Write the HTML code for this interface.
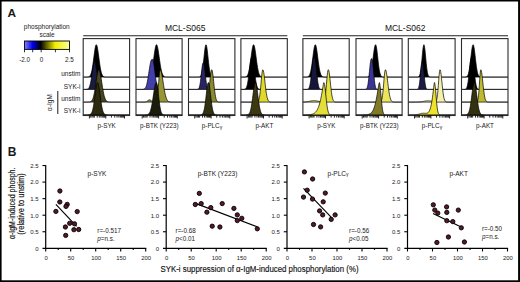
<!DOCTYPE html>
<html><head><meta charset="utf-8"><style>
html,body{margin:0;padding:0;background:#fff;}
body{width:520px;height:282px;overflow:hidden;position:relative;}
svg{position:absolute;left:0;top:0;}
text{font-family:"Liberation Sans", sans-serif;fill:#1a1a1a;}
text.big{fill:#111;stroke:#111;stroke-width:0.15px;}
text.mid{fill:#111;}
</style></head><body>
<svg width="520" height="282" viewBox="0 0 520 282">
<rect x="0" y="0" width="520" height="1.5" fill="#000"/>
<rect x="0" y="0" width="1.6" height="282" fill="#000"/>
<rect x="518.1" y="0" width="1.9" height="282" fill="#000"/>
<rect x="0" y="280.3" width="520" height="1.7" fill="#000"/>
<line x1="83.2" y1="35.8" x2="287.3" y2="35.8" stroke="#222" stroke-width="1.1"/>
<line x1="302.9" y1="35.8" x2="508.0" y2="35.8" stroke="#222" stroke-width="1.1"/>
<path d="M83.20,77.10 L83.20,77.10 L83.59,77.10 L83.97,77.10 L84.36,77.10 L84.75,77.10 L85.13,77.10 L85.52,77.10 L85.91,77.10 L86.29,77.09 L86.68,77.08 L87.07,77.07 L87.45,77.05 L87.84,77.01 L88.23,76.95 L88.61,76.85 L89.00,76.70 L89.39,76.47 L89.77,76.13 L90.16,75.65 L90.55,74.98 L90.93,74.08 L91.32,72.90 L91.71,71.41 L92.09,69.56 L92.48,67.37 L92.87,64.84 L93.25,62.02 L93.64,59.02 L94.03,55.94 L94.41,52.94 L94.80,50.18 L95.19,47.85 L95.57,46.08 L95.96,45.01 L96.35,44.71 L96.73,45.17 L97.12,46.34 L97.51,48.14 L97.89,50.45 L98.28,53.14 L98.67,56.05 L99.05,59.03 L99.44,61.94 L99.83,64.67 L100.21,67.14 L100.60,69.30 L100.99,71.13 L101.37,72.64 L101.76,73.84 L102.15,74.77 L102.53,75.47 L102.92,75.99 L103.31,76.36 L103.69,76.62 L104.08,76.79 L104.47,76.91 L104.85,76.98 L105.24,77.03 L105.63,77.06 L106.01,77.08 L106.40,77.09 L106.79,77.09 L107.17,77.10 L107.56,77.10 L107.95,77.10 L108.33,77.10 L108.72,77.10 L109.11,77.10 L109.49,77.10 L109.88,77.10 L110.27,77.10 L110.65,77.10 L111.04,77.10 L111.43,77.10 L111.81,77.10 L112.20,77.10 L112.59,77.10 L112.97,77.10 L113.36,77.10 L113.75,77.10 L114.13,77.10 L114.52,77.10 L114.91,77.10 L115.29,77.10 L115.68,77.10 L116.07,77.10 L116.45,77.10 L116.84,77.10 L117.23,77.10 L117.61,77.10 L118.00,77.10 L118.39,77.10 L118.77,77.10 L119.16,77.10 L119.55,77.10 L119.93,77.10 L120.32,77.10 L120.71,77.10 L121.09,77.10 L121.48,77.10 L121.87,77.10 L122.25,77.10 L122.64,77.10 L123.03,77.10 L123.41,77.10 L123.80,77.10 L124.19,77.10 L124.57,77.10 L124.96,77.10 L125.35,77.10 L125.73,77.10 L126.12,77.10 L126.51,77.10 L126.89,77.10 L127.28,77.10 L127.67,77.10 L128.05,77.10 L128.44,77.10 L128.83,77.10 L129.21,77.10 L129.60,77.10 L129.60,77.10 Z" fill="rgb(0,0,0)" stroke="#000" stroke-width="0.7" stroke-linejoin="round"/>
<path d="M83.20,89.40 L83.20,89.40 L83.59,89.40 L83.97,89.40 L84.36,89.40 L84.75,89.39 L85.13,89.39 L85.52,89.38 L85.91,89.37 L86.29,89.34 L86.68,89.29 L87.07,89.22 L87.45,89.10 L87.84,88.91 L88.23,88.63 L88.61,88.23 L89.00,87.66 L89.39,86.88 L89.77,85.85 L90.16,84.52 L90.55,82.88 L90.93,80.91 L91.32,78.64 L91.71,76.11 L92.09,73.41 L92.48,70.67 L92.87,68.04 L93.25,65.66 L93.64,63.72 L94.03,62.33 L94.41,61.62 L94.80,61.63 L95.19,62.37 L95.57,63.77 L95.96,65.74 L96.35,68.12 L96.73,70.77 L97.12,73.51 L97.51,76.20 L97.89,78.72 L98.28,80.98 L98.67,82.94 L99.05,84.57 L99.44,85.89 L99.83,86.91 L100.21,87.68 L100.60,88.24 L100.99,88.64 L101.37,88.92 L101.76,89.10 L102.15,89.22 L102.53,89.29 L102.92,89.34 L103.31,89.37 L103.69,89.38 L104.08,89.39 L104.47,89.39 L104.85,89.40 L105.24,89.40 L105.63,89.40 L106.01,89.40 L106.40,89.40 L106.79,89.40 L107.17,89.40 L107.56,89.40 L107.95,89.40 L108.33,89.40 L108.72,89.40 L109.11,89.40 L109.49,89.40 L109.88,89.40 L110.27,89.40 L110.65,89.40 L111.04,89.40 L111.43,89.40 L111.81,89.40 L112.20,89.40 L112.59,89.40 L112.97,89.40 L113.36,89.40 L113.75,89.40 L114.13,89.40 L114.52,89.40 L114.91,89.40 L115.29,89.40 L115.68,89.40 L116.07,89.40 L116.45,89.40 L116.84,89.40 L117.23,89.40 L117.61,89.40 L118.00,89.40 L118.39,89.40 L118.77,89.40 L119.16,89.40 L119.55,89.40 L119.93,89.40 L120.32,89.40 L120.71,89.40 L121.09,89.40 L121.48,89.40 L121.87,89.40 L122.25,89.40 L122.64,89.40 L123.03,89.40 L123.41,89.40 L123.80,89.40 L124.19,89.40 L124.57,89.40 L124.96,89.40 L125.35,89.40 L125.73,89.40 L126.12,89.40 L126.51,89.40 L126.89,89.40 L127.28,89.40 L127.67,89.40 L128.05,89.40 L128.44,89.40 L128.83,89.40 L129.21,89.40 L129.60,89.40 L129.60,89.40 Z" fill="rgb(26,26,66)" stroke="#000" stroke-width="0.7" stroke-linejoin="round"/>
<path d="M83.20,102.10 L83.20,102.10 L83.59,102.10 L83.97,102.10 L84.36,102.10 L84.75,102.10 L85.13,102.10 L85.52,102.10 L85.91,102.10 L86.29,102.10 L86.68,102.10 L87.07,102.09 L87.45,102.09 L87.84,102.08 L88.23,102.07 L88.61,102.06 L89.00,102.03 L89.39,101.98 L89.77,101.92 L90.16,101.82 L90.55,101.68 L90.93,101.47 L91.32,101.18 L91.71,100.78 L92.09,100.25 L92.48,99.55 L92.87,98.65 L93.25,97.53 L93.64,96.15 L94.03,94.50 L94.41,92.58 L94.80,90.40 L95.19,87.99 L95.57,85.40 L95.96,82.71 L96.35,80.01 L96.73,77.41 L97.12,75.03 L97.51,72.97 L97.89,71.35 L98.28,70.25 L98.67,69.74 L99.05,69.82 L99.44,70.44 L99.83,71.58 L100.21,73.16 L100.60,75.13 L100.99,77.38 L101.37,79.83 L101.76,82.36 L102.15,84.91 L102.53,87.38 L102.92,89.70 L103.31,91.83 L103.69,93.74 L104.08,95.41 L104.47,96.83 L104.85,98.03 L105.24,99.00 L105.63,99.78 L106.01,100.39 L106.40,100.87 L106.79,101.22 L107.17,101.49 L107.56,101.68 L107.95,101.82 L108.33,101.91 L108.72,101.98 L109.11,102.02 L109.49,102.05 L109.88,102.07 L110.27,102.08 L110.65,102.09 L111.04,102.09 L111.43,102.10 L111.81,102.10 L112.20,102.10 L112.59,102.10 L112.97,102.10 L113.36,102.10 L113.75,102.10 L114.13,102.10 L114.52,102.10 L114.91,102.10 L115.29,102.10 L115.68,102.10 L116.07,102.10 L116.45,102.10 L116.84,102.10 L117.23,102.10 L117.61,102.10 L118.00,102.10 L118.39,102.10 L118.77,102.10 L119.16,102.10 L119.55,102.10 L119.93,102.10 L120.32,102.10 L120.71,102.10 L121.09,102.10 L121.48,102.10 L121.87,102.10 L122.25,102.10 L122.64,102.10 L123.03,102.10 L123.41,102.10 L123.80,102.10 L124.19,102.10 L124.57,102.10 L124.96,102.10 L125.35,102.10 L125.73,102.10 L126.12,102.10 L126.51,102.10 L126.89,102.10 L127.28,102.10 L127.67,102.10 L128.05,102.10 L128.44,102.10 L128.83,102.10 L129.21,102.10 L129.60,102.10 L129.60,102.10 Z" fill="rgb(72,70,30)" stroke="#000" stroke-width="0.7" stroke-linejoin="round"/>
<path d="M83.20,114.90 L83.20,114.90 L83.59,114.90 L83.97,114.90 L84.36,114.90 L84.75,114.90 L85.13,114.90 L85.52,114.90 L85.91,114.90 L86.29,114.90 L86.68,114.90 L87.07,114.89 L87.45,114.89 L87.84,114.88 L88.23,114.86 L88.61,114.84 L89.00,114.79 L89.39,114.72 L89.77,114.61 L90.16,114.44 L90.55,114.20 L90.93,113.84 L91.32,113.35 L91.71,112.67 L92.09,111.76 L92.48,110.60 L92.87,109.13 L93.25,107.34 L93.64,105.22 L94.03,102.78 L94.41,100.08 L94.80,97.19 L95.19,94.21 L95.57,91.29 L95.96,88.56 L96.35,86.19 L96.73,84.32 L97.12,83.07 L97.51,82.52 L97.89,82.71 L98.28,83.63 L98.67,85.22 L99.05,87.36 L99.44,89.94 L99.83,92.78 L100.21,95.75 L100.60,98.70 L100.99,101.51 L101.37,104.08 L101.76,106.36 L102.15,108.31 L102.53,109.93 L102.92,111.24 L103.31,112.26 L103.69,113.04 L104.08,113.62 L104.47,114.04 L104.85,114.34 L105.24,114.54 L105.63,114.67 L106.01,114.76 L106.40,114.82 L106.79,114.85 L107.17,114.87 L107.56,114.88 L107.95,114.89 L108.33,114.90 L108.72,114.90 L109.11,114.90 L109.49,114.90 L109.88,114.90 L110.27,114.90 L110.65,114.90 L111.04,114.90 L111.43,114.90 L111.81,114.90 L112.20,114.90 L112.59,114.90 L112.97,114.90 L113.36,114.90 L113.75,114.90 L114.13,114.90 L114.52,114.90 L114.91,114.90 L115.29,114.90 L115.68,114.90 L116.07,114.90 L116.45,114.90 L116.84,114.90 L117.23,114.90 L117.61,114.90 L118.00,114.90 L118.39,114.90 L118.77,114.90 L119.16,114.90 L119.55,114.90 L119.93,114.90 L120.32,114.90 L120.71,114.90 L121.09,114.90 L121.48,114.90 L121.87,114.90 L122.25,114.90 L122.64,114.90 L123.03,114.90 L123.41,114.90 L123.80,114.90 L124.19,114.90 L124.57,114.90 L124.96,114.90 L125.35,114.90 L125.73,114.90 L126.12,114.90 L126.51,114.90 L126.89,114.90 L127.28,114.90 L127.67,114.90 L128.05,114.90 L128.44,114.90 L128.83,114.90 L129.21,114.90 L129.60,114.90 L129.60,114.90 Z" fill="rgb(44,43,16)" stroke="#000" stroke-width="0.7" stroke-linejoin="round"/>
<rect x="83.2" y="38.6" width="46.40" height="76.9" fill="none" stroke="#2a2a2a" stroke-width="1.1"/>
<line x1="89.40" y1="115.5" x2="89.40" y2="118.50" stroke="#000" stroke-width="0.85"/>
<line x1="105.80" y1="115.5" x2="105.80" y2="118.50" stroke="#000" stroke-width="0.85"/>
<line x1="124.50" y1="115.5" x2="124.50" y2="118.50" stroke="#000" stroke-width="0.85"/>
<line x1="94.34" y1="115.5" x2="94.34" y2="117.60" stroke="#000" stroke-width="0.85"/>
<line x1="97.22" y1="115.5" x2="97.22" y2="117.60" stroke="#000" stroke-width="0.85"/>
<line x1="99.27" y1="115.5" x2="99.27" y2="117.60" stroke="#000" stroke-width="0.85"/>
<line x1="100.86" y1="115.5" x2="100.86" y2="117.60" stroke="#000" stroke-width="0.85"/>
<line x1="102.16" y1="115.5" x2="102.16" y2="117.60" stroke="#000" stroke-width="0.85"/>
<line x1="103.26" y1="115.5" x2="103.26" y2="117.60" stroke="#000" stroke-width="0.85"/>
<line x1="104.21" y1="115.5" x2="104.21" y2="117.60" stroke="#000" stroke-width="0.85"/>
<line x1="105.05" y1="115.5" x2="105.05" y2="117.60" stroke="#000" stroke-width="0.85"/>
<line x1="111.43" y1="115.5" x2="111.43" y2="117.60" stroke="#000" stroke-width="0.85"/>
<line x1="114.72" y1="115.5" x2="114.72" y2="117.60" stroke="#000" stroke-width="0.85"/>
<line x1="117.06" y1="115.5" x2="117.06" y2="117.60" stroke="#000" stroke-width="0.85"/>
<line x1="118.87" y1="115.5" x2="118.87" y2="117.60" stroke="#000" stroke-width="0.85"/>
<line x1="120.35" y1="115.5" x2="120.35" y2="117.60" stroke="#000" stroke-width="0.85"/>
<line x1="121.60" y1="115.5" x2="121.60" y2="117.60" stroke="#000" stroke-width="0.85"/>
<line x1="122.69" y1="115.5" x2="122.69" y2="117.60" stroke="#000" stroke-width="0.85"/>
<line x1="123.64" y1="115.5" x2="123.64" y2="117.60" stroke="#000" stroke-width="0.85"/>
<line x1="90.70" y1="115.5" x2="90.70" y2="117.60" stroke="#000" stroke-width="0.85"/>
<line x1="92.00" y1="115.5" x2="92.00" y2="117.60" stroke="#000" stroke-width="0.85"/>
<line x1="93.20" y1="115.5" x2="93.20" y2="117.60" stroke="#000" stroke-width="0.85"/>
<path d="M136.00,77.10 L136.00,77.10 L136.38,77.10 L136.77,77.10 L137.15,77.10 L137.54,77.10 L137.92,77.10 L138.31,77.10 L138.69,77.10 L139.07,77.10 L139.46,77.10 L139.84,77.10 L140.23,77.10 L140.61,77.10 L140.99,77.10 L141.38,77.10 L141.76,77.10 L142.15,77.10 L142.53,77.10 L142.91,77.10 L143.30,77.10 L143.68,77.10 L144.07,77.10 L144.45,77.10 L144.84,77.10 L145.22,77.10 L145.60,77.09 L145.99,77.09 L146.37,77.08 L146.76,77.07 L147.14,77.04 L147.53,77.00 L147.91,76.94 L148.29,76.85 L148.68,76.71 L149.06,76.50 L149.45,76.21 L149.83,75.79 L150.21,75.23 L150.60,74.47 L150.98,73.49 L151.37,72.26 L151.75,70.73 L152.13,68.90 L152.52,66.77 L152.90,64.36 L153.29,61.71 L153.67,58.90 L154.06,56.04 L154.44,53.24 L154.82,50.64 L155.21,48.37 L155.59,46.57 L155.98,45.33 L156.36,44.75 L156.75,44.83 L157.13,45.56 L157.51,46.88 L157.90,48.71 L158.28,50.96 L158.67,53.51 L159.05,56.24 L159.43,59.01 L159.82,61.72 L160.20,64.29 L160.59,66.64 L160.97,68.73 L161.35,70.53 L161.74,72.05 L162.12,73.29 L162.51,74.28 L162.89,75.06 L163.28,75.65 L163.66,76.09 L164.04,76.41 L164.43,76.64 L164.81,76.80 L165.20,76.91 L165.58,76.98 L165.97,77.02 L166.35,77.05 L166.73,77.07 L167.12,77.08 L167.50,77.09 L167.89,77.09 L168.27,77.10 L168.65,77.10 L169.04,77.10 L169.42,77.10 L169.81,77.10 L170.19,77.10 L170.57,77.10 L170.96,77.10 L171.34,77.10 L171.73,77.10 L172.11,77.10 L172.50,77.10 L172.88,77.10 L173.26,77.10 L173.65,77.10 L174.03,77.10 L174.42,77.10 L174.80,77.10 L175.19,77.10 L175.57,77.10 L175.95,77.10 L176.34,77.10 L176.72,77.10 L177.11,77.10 L177.49,77.10 L177.87,77.10 L178.26,77.10 L178.64,77.10 L179.03,77.10 L179.41,77.10 L179.79,77.10 L180.18,77.10 L180.56,77.10 L180.95,77.10 L181.33,77.10 L181.72,77.10 L182.10,77.10 L182.10,77.10 Z" fill="rgb(0,0,0)" stroke="#000" stroke-width="0.7" stroke-linejoin="round"/>
<path d="M136.00,89.40 L136.00,89.40 L136.38,89.40 L136.77,89.40 L137.15,89.40 L137.54,89.40 L137.92,89.40 L138.31,89.40 L138.69,89.40 L139.07,89.40 L139.46,89.40 L139.84,89.40 L140.23,89.40 L140.61,89.40 L140.99,89.40 L141.38,89.40 L141.76,89.39 L142.15,89.38 L142.53,89.36 L142.91,89.33 L143.30,89.28 L143.68,89.20 L144.07,89.07 L144.45,88.87 L144.84,88.57 L145.22,88.14 L145.60,87.55 L145.99,86.75 L146.37,85.71 L146.76,84.39 L147.14,82.78 L147.53,80.89 L147.91,78.73 L148.29,76.35 L148.68,73.82 L149.06,71.22 L149.45,68.68 L149.83,66.28 L150.21,64.14 L150.60,62.34 L150.98,60.95 L151.37,59.98 L151.75,59.44 L152.13,59.27 L152.52,59.39 L152.90,60.00 L153.29,61.23 L153.67,63.07 L154.06,65.45 L154.44,68.25 L154.82,71.30 L155.21,74.40 L155.59,77.39 L155.98,80.11 L156.36,82.48 L156.75,84.43 L157.13,85.97 L157.51,87.12 L157.90,87.94 L158.28,88.51 L158.67,88.88 L159.05,89.11 L159.43,89.24 L159.82,89.32 L160.20,89.36 L160.59,89.38 L160.97,89.39 L161.35,89.40 L161.74,89.40 L162.12,89.40 L162.51,89.40 L162.89,89.40 L163.28,89.40 L163.66,89.40 L164.04,89.40 L164.43,89.40 L164.81,89.40 L165.20,89.40 L165.58,89.40 L165.97,89.40 L166.35,89.40 L166.73,89.40 L167.12,89.40 L167.50,89.40 L167.89,89.40 L168.27,89.40 L168.65,89.40 L169.04,89.40 L169.42,89.40 L169.81,89.40 L170.19,89.40 L170.57,89.40 L170.96,89.40 L171.34,89.40 L171.73,89.40 L172.11,89.40 L172.50,89.40 L172.88,89.40 L173.26,89.40 L173.65,89.40 L174.03,89.40 L174.42,89.40 L174.80,89.40 L175.19,89.40 L175.57,89.40 L175.95,89.40 L176.34,89.40 L176.72,89.40 L177.11,89.40 L177.49,89.40 L177.87,89.40 L178.26,89.40 L178.64,89.40 L179.03,89.40 L179.41,89.40 L179.79,89.40 L180.18,89.40 L180.56,89.40 L180.95,89.40 L181.33,89.40 L181.72,89.40 L182.10,89.40 L182.10,89.40 Z" fill="rgb(66,62,170)" stroke="#000" stroke-width="0.7" stroke-linejoin="round"/>
<path d="M136.00,102.10 L136.00,102.10 L136.38,102.10 L136.77,102.10 L137.15,102.10 L137.54,102.10 L137.92,102.10 L138.31,102.10 L138.69,102.10 L139.07,102.10 L139.46,102.10 L139.84,102.10 L140.23,102.10 L140.61,102.10 L140.99,102.10 L141.38,102.10 L141.76,102.10 L142.15,102.10 L142.53,102.10 L142.91,102.10 L143.30,102.10 L143.68,102.09 L144.07,102.09 L144.45,102.07 L144.84,102.05 L145.22,102.01 L145.60,101.94 L145.99,101.83 L146.37,101.68 L146.76,101.48 L147.14,101.24 L147.53,100.95 L147.91,100.64 L148.29,100.34 L148.68,100.08 L149.06,99.91 L149.45,99.83 L149.83,99.87 L150.21,100.02 L150.60,100.26 L150.98,100.55 L151.37,100.86 L151.75,101.16 L152.13,101.42 L152.52,101.63 L152.90,101.79 L153.29,101.91 L153.67,101.99 L154.06,102.03 L154.44,102.04 L154.82,102.02 L155.21,101.94 L155.59,101.75 L155.98,101.39 L156.36,100.72 L156.75,99.58 L157.13,97.79 L157.51,95.18 L157.90,91.68 L158.28,87.36 L158.67,82.52 L159.05,77.68 L159.43,73.52 L159.82,70.69 L160.20,69.70 L160.59,69.97 L160.97,70.77 L161.35,72.06 L161.74,73.76 L162.12,75.82 L162.51,78.13 L162.89,80.60 L163.28,83.13 L163.66,85.64 L164.04,88.06 L164.43,90.32 L164.81,92.38 L165.20,94.21 L165.58,95.80 L165.97,97.16 L166.35,98.29 L166.73,99.21 L167.12,99.94 L167.50,100.51 L167.89,100.95 L168.27,101.29 L168.65,101.53 L169.04,101.71 L169.42,101.84 L169.81,101.93 L170.19,101.99 L170.57,102.03 L170.96,102.05 L171.34,102.07 L171.73,102.08 L172.11,102.09 L172.50,102.09 L172.88,102.10 L173.26,102.10 L173.65,102.10 L174.03,102.10 L174.42,102.10 L174.80,102.10 L175.19,102.10 L175.57,102.10 L175.95,102.10 L176.34,102.10 L176.72,102.10 L177.11,102.10 L177.49,102.10 L177.87,102.10 L178.26,102.10 L178.64,102.10 L179.03,102.10 L179.41,102.10 L179.79,102.10 L180.18,102.10 L180.56,102.10 L180.95,102.10 L181.33,102.10 L181.72,102.10 L182.10,102.10 L182.10,102.10 Z" fill="rgb(150,150,52)" stroke="#000" stroke-width="0.7" stroke-linejoin="round"/>
<path d="M136.00,114.90 L136.00,114.90 L136.38,114.90 L136.77,114.90 L137.15,114.90 L137.54,114.90 L137.92,114.90 L138.31,114.90 L138.69,114.90 L139.07,114.90 L139.46,114.90 L139.84,114.90 L140.23,114.90 L140.61,114.90 L140.99,114.90 L141.38,114.90 L141.76,114.90 L142.15,114.90 L142.53,114.90 L142.91,114.90 L143.30,114.90 L143.68,114.90 L144.07,114.90 L144.45,114.89 L144.84,114.89 L145.22,114.88 L145.60,114.87 L145.99,114.84 L146.37,114.81 L146.76,114.76 L147.14,114.69 L147.53,114.58 L147.91,114.42 L148.29,114.21 L148.68,113.91 L149.06,113.50 L149.45,112.96 L149.83,112.27 L150.21,111.38 L150.60,110.29 L150.98,108.95 L151.37,107.37 L151.75,105.53 L152.13,103.45 L152.52,101.15 L152.90,98.68 L153.29,96.10 L153.67,93.49 L154.06,90.94 L154.44,88.57 L154.82,86.47 L155.21,84.73 L155.59,83.46 L155.98,82.70 L156.36,82.51 L156.75,83.15 L157.13,84.71 L157.51,87.04 L157.90,89.96 L158.28,93.24 L158.67,96.65 L159.05,99.98 L159.43,103.07 L159.82,105.79 L160.20,108.10 L160.59,109.98 L160.97,111.44 L161.35,112.54 L161.74,113.34 L162.12,113.90 L162.51,114.28 L162.89,114.52 L163.28,114.68 L163.66,114.77 L164.04,114.83 L164.43,114.86 L164.81,114.88 L165.20,114.89 L165.58,114.90 L165.97,114.90 L166.35,114.90 L166.73,114.90 L167.12,114.90 L167.50,114.90 L167.89,114.90 L168.27,114.90 L168.65,114.90 L169.04,114.90 L169.42,114.90 L169.81,114.90 L170.19,114.90 L170.57,114.90 L170.96,114.90 L171.34,114.90 L171.73,114.90 L172.11,114.90 L172.50,114.90 L172.88,114.90 L173.26,114.90 L173.65,114.90 L174.03,114.90 L174.42,114.90 L174.80,114.90 L175.19,114.90 L175.57,114.90 L175.95,114.90 L176.34,114.90 L176.72,114.90 L177.11,114.90 L177.49,114.90 L177.87,114.90 L178.26,114.90 L178.64,114.90 L179.03,114.90 L179.41,114.90 L179.79,114.90 L180.18,114.90 L180.56,114.90 L180.95,114.90 L181.33,114.90 L181.72,114.90 L182.10,114.90 L182.10,114.90 Z" fill="rgb(28,28,10)" stroke="#000" stroke-width="0.7" stroke-linejoin="round"/>
<rect x="136.0" y="38.6" width="46.10" height="76.9" fill="none" stroke="#2a2a2a" stroke-width="1.1"/>
<line x1="142.20" y1="115.5" x2="142.20" y2="118.50" stroke="#000" stroke-width="0.85"/>
<line x1="158.60" y1="115.5" x2="158.60" y2="118.50" stroke="#000" stroke-width="0.85"/>
<line x1="177.30" y1="115.5" x2="177.30" y2="118.50" stroke="#000" stroke-width="0.85"/>
<line x1="147.14" y1="115.5" x2="147.14" y2="117.60" stroke="#000" stroke-width="0.85"/>
<line x1="150.02" y1="115.5" x2="150.02" y2="117.60" stroke="#000" stroke-width="0.85"/>
<line x1="152.07" y1="115.5" x2="152.07" y2="117.60" stroke="#000" stroke-width="0.85"/>
<line x1="153.66" y1="115.5" x2="153.66" y2="117.60" stroke="#000" stroke-width="0.85"/>
<line x1="154.96" y1="115.5" x2="154.96" y2="117.60" stroke="#000" stroke-width="0.85"/>
<line x1="156.06" y1="115.5" x2="156.06" y2="117.60" stroke="#000" stroke-width="0.85"/>
<line x1="157.01" y1="115.5" x2="157.01" y2="117.60" stroke="#000" stroke-width="0.85"/>
<line x1="157.85" y1="115.5" x2="157.85" y2="117.60" stroke="#000" stroke-width="0.85"/>
<line x1="164.23" y1="115.5" x2="164.23" y2="117.60" stroke="#000" stroke-width="0.85"/>
<line x1="167.52" y1="115.5" x2="167.52" y2="117.60" stroke="#000" stroke-width="0.85"/>
<line x1="169.86" y1="115.5" x2="169.86" y2="117.60" stroke="#000" stroke-width="0.85"/>
<line x1="171.67" y1="115.5" x2="171.67" y2="117.60" stroke="#000" stroke-width="0.85"/>
<line x1="173.15" y1="115.5" x2="173.15" y2="117.60" stroke="#000" stroke-width="0.85"/>
<line x1="174.40" y1="115.5" x2="174.40" y2="117.60" stroke="#000" stroke-width="0.85"/>
<line x1="175.49" y1="115.5" x2="175.49" y2="117.60" stroke="#000" stroke-width="0.85"/>
<line x1="176.44" y1="115.5" x2="176.44" y2="117.60" stroke="#000" stroke-width="0.85"/>
<line x1="143.50" y1="115.5" x2="143.50" y2="117.60" stroke="#000" stroke-width="0.85"/>
<line x1="144.80" y1="115.5" x2="144.80" y2="117.60" stroke="#000" stroke-width="0.85"/>
<line x1="146.00" y1="115.5" x2="146.00" y2="117.60" stroke="#000" stroke-width="0.85"/>
<path d="M188.50,77.10 L188.50,77.10 L188.89,77.10 L189.27,77.10 L189.66,77.10 L190.05,77.10 L190.43,77.10 L190.82,77.10 L191.21,77.10 L191.59,77.10 L191.98,77.10 L192.37,77.10 L192.75,77.10 L193.14,77.10 L193.53,77.10 L193.91,77.10 L194.30,77.10 L194.69,77.10 L195.07,77.10 L195.46,77.10 L195.85,77.10 L196.23,77.10 L196.62,77.10 L197.01,77.10 L197.39,77.10 L197.78,77.09 L198.17,77.08 L198.55,77.06 L198.94,77.02 L199.33,76.95 L199.71,76.82 L200.10,76.61 L200.49,76.26 L200.87,75.73 L201.26,74.93 L201.65,73.79 L202.03,72.22 L202.42,70.17 L202.81,67.60 L203.19,64.54 L203.58,61.09 L203.97,57.40 L204.35,53.72 L204.74,50.33 L205.13,47.54 L205.51,45.61 L205.90,44.74 L206.29,45.02 L206.67,46.42 L207.06,48.80 L207.45,51.91 L207.83,55.48 L208.22,59.19 L208.61,62.80 L208.99,66.08 L209.38,68.91 L209.77,71.22 L210.15,73.04 L210.54,74.39 L210.93,75.35 L211.31,76.02 L211.70,76.45 L212.09,76.72 L212.47,76.89 L212.86,76.99 L213.25,77.04 L213.63,77.07 L214.02,77.09 L214.41,77.09 L214.79,77.10 L215.18,77.10 L215.57,77.10 L215.95,77.10 L216.34,77.10 L216.73,77.10 L217.11,77.10 L217.50,77.10 L217.89,77.10 L218.27,77.10 L218.66,77.10 L219.05,77.10 L219.43,77.10 L219.82,77.10 L220.21,77.10 L220.59,77.10 L220.98,77.10 L221.37,77.10 L221.75,77.10 L222.14,77.10 L222.53,77.10 L222.91,77.10 L223.30,77.10 L223.69,77.10 L224.07,77.10 L224.46,77.10 L224.85,77.10 L225.23,77.10 L225.62,77.10 L226.01,77.10 L226.39,77.10 L226.78,77.10 L227.17,77.10 L227.55,77.10 L227.94,77.10 L228.33,77.10 L228.71,77.10 L229.10,77.10 L229.49,77.10 L229.87,77.10 L230.26,77.10 L230.65,77.10 L231.03,77.10 L231.42,77.10 L231.81,77.10 L232.19,77.10 L232.58,77.10 L232.97,77.10 L233.35,77.10 L233.74,77.10 L234.13,77.10 L234.51,77.10 L234.90,77.10 L234.90,77.10 Z" fill="rgb(0,0,0)" stroke="#000" stroke-width="0.7" stroke-linejoin="round"/>
<path d="M188.50,89.40 L188.50,89.40 L188.89,89.40 L189.27,89.40 L189.66,89.40 L190.05,89.40 L190.43,89.40 L190.82,89.40 L191.21,89.40 L191.59,89.40 L191.98,89.40 L192.37,89.40 L192.75,89.40 L193.14,89.40 L193.53,89.40 L193.91,89.40 L194.30,89.40 L194.69,89.40 L195.07,89.40 L195.46,89.40 L195.85,89.40 L196.23,89.40 L196.62,89.39 L197.01,89.38 L197.39,89.34 L197.78,89.26 L198.17,89.10 L198.55,88.78 L198.94,88.23 L199.33,87.31 L199.71,85.92 L200.10,83.93 L200.49,81.32 L200.87,78.16 L201.26,74.63 L201.65,71.04 L202.03,67.77 L202.42,65.18 L202.81,63.51 L203.19,62.86 L203.58,63.03 L203.97,64.13 L204.35,66.24 L204.74,69.18 L205.13,72.63 L205.51,76.24 L205.90,79.64 L206.29,82.57 L206.67,84.90 L207.06,86.61 L207.45,87.78 L207.83,88.51 L208.22,88.95 L208.61,89.18 L208.99,89.30 L209.38,89.36 L209.77,89.38 L210.15,89.39 L210.54,89.40 L210.93,89.40 L211.31,89.40 L211.70,89.40 L212.09,89.40 L212.47,89.40 L212.86,89.40 L213.25,89.40 L213.63,89.40 L214.02,89.40 L214.41,89.40 L214.79,89.40 L215.18,89.40 L215.57,89.40 L215.95,89.40 L216.34,89.40 L216.73,89.40 L217.11,89.40 L217.50,89.40 L217.89,89.40 L218.27,89.40 L218.66,89.40 L219.05,89.40 L219.43,89.40 L219.82,89.40 L220.21,89.40 L220.59,89.40 L220.98,89.40 L221.37,89.40 L221.75,89.40 L222.14,89.40 L222.53,89.40 L222.91,89.40 L223.30,89.40 L223.69,89.40 L224.07,89.40 L224.46,89.40 L224.85,89.40 L225.23,89.40 L225.62,89.40 L226.01,89.40 L226.39,89.40 L226.78,89.40 L227.17,89.40 L227.55,89.40 L227.94,89.40 L228.33,89.40 L228.71,89.40 L229.10,89.40 L229.49,89.40 L229.87,89.40 L230.26,89.40 L230.65,89.40 L231.03,89.40 L231.42,89.40 L231.81,89.40 L232.19,89.40 L232.58,89.40 L232.97,89.40 L233.35,89.40 L233.74,89.40 L234.13,89.40 L234.51,89.40 L234.90,89.40 L234.90,89.40 Z" fill="rgb(40,36,100)" stroke="#000" stroke-width="0.7" stroke-linejoin="round"/>
<path d="M188.50,102.10 L188.50,102.10 L188.89,102.10 L189.27,102.10 L189.66,102.10 L190.05,102.10 L190.43,102.10 L190.82,102.10 L191.21,102.10 L191.59,102.10 L191.98,102.10 L192.37,102.10 L192.75,102.10 L193.14,102.10 L193.53,102.10 L193.91,102.10 L194.30,102.10 L194.69,102.10 L195.07,102.10 L195.46,102.10 L195.85,102.10 L196.23,102.10 L196.62,102.10 L197.01,102.10 L197.39,102.10 L197.78,102.10 L198.17,102.10 L198.55,102.10 L198.94,102.10 L199.33,102.10 L199.71,102.10 L200.10,102.10 L200.49,102.10 L200.87,102.10 L201.26,102.10 L201.65,102.10 L202.03,102.10 L202.42,102.10 L202.81,102.10 L203.19,102.10 L203.58,102.09 L203.97,102.09 L204.35,102.07 L204.74,102.04 L205.13,101.99 L205.51,101.88 L205.90,101.71 L206.29,101.40 L206.67,100.92 L207.06,100.17 L207.45,99.07 L207.83,97.53 L208.22,95.47 L208.61,92.85 L208.99,89.69 L209.38,86.09 L209.77,82.25 L210.15,78.42 L210.54,74.94 L210.93,72.14 L211.31,70.33 L211.70,69.70 L212.09,70.28 L212.47,71.95 L212.86,74.54 L213.25,77.80 L213.63,81.44 L214.02,85.15 L214.41,88.68 L214.79,91.86 L215.18,94.56 L215.57,96.74 L215.95,98.43 L216.34,99.67 L216.73,100.55 L217.11,101.15 L217.50,101.53 L217.89,101.78 L218.27,101.92 L218.66,102.00 L219.05,102.05 L219.43,102.08 L219.82,102.09 L220.21,102.09 L220.59,102.10 L220.98,102.10 L221.37,102.10 L221.75,102.10 L222.14,102.10 L222.53,102.10 L222.91,102.10 L223.30,102.10 L223.69,102.10 L224.07,102.10 L224.46,102.10 L224.85,102.10 L225.23,102.10 L225.62,102.10 L226.01,102.10 L226.39,102.10 L226.78,102.10 L227.17,102.10 L227.55,102.10 L227.94,102.10 L228.33,102.10 L228.71,102.10 L229.10,102.10 L229.49,102.10 L229.87,102.10 L230.26,102.10 L230.65,102.10 L231.03,102.10 L231.42,102.10 L231.81,102.10 L232.19,102.10 L232.58,102.10 L232.97,102.10 L233.35,102.10 L233.74,102.10 L234.13,102.10 L234.51,102.10 L234.90,102.10 L234.90,102.10 Z" fill="rgb(140,138,48)" stroke="#000" stroke-width="0.7" stroke-linejoin="round"/>
<path d="M188.50,114.90 L188.50,114.90 L188.89,114.90 L189.27,114.90 L189.66,114.90 L190.05,114.90 L190.43,114.90 L190.82,114.90 L191.21,114.90 L191.59,114.90 L191.98,114.90 L192.37,114.90 L192.75,114.90 L193.14,114.90 L193.53,114.90 L193.91,114.90 L194.30,114.90 L194.69,114.90 L195.07,114.90 L195.46,114.90 L195.85,114.90 L196.23,114.90 L196.62,114.90 L197.01,114.90 L197.39,114.90 L197.78,114.90 L198.17,114.90 L198.55,114.90 L198.94,114.90 L199.33,114.89 L199.71,114.89 L200.10,114.87 L200.49,114.85 L200.87,114.80 L201.26,114.73 L201.65,114.60 L202.03,114.39 L202.42,114.07 L202.81,113.59 L203.19,112.89 L203.58,111.91 L203.97,110.58 L204.35,108.86 L204.74,106.70 L205.13,104.10 L205.51,101.11 L205.90,97.83 L206.29,94.40 L206.67,91.03 L207.06,87.95 L207.45,85.38 L207.83,83.55 L208.22,82.61 L208.61,82.64 L208.99,83.65 L209.38,85.54 L209.77,88.15 L210.15,91.26 L210.54,94.64 L210.93,98.06 L211.31,101.33 L211.70,104.29 L212.09,106.86 L212.47,108.99 L212.86,110.69 L213.25,111.99 L213.63,112.95 L214.02,113.63 L214.41,114.10 L214.79,114.41 L215.18,114.61 L215.57,114.73 L215.95,114.81 L216.34,114.85 L216.73,114.87 L217.11,114.89 L217.50,114.89 L217.89,114.90 L218.27,114.90 L218.66,114.90 L219.05,114.90 L219.43,114.90 L219.82,114.90 L220.21,114.90 L220.59,114.90 L220.98,114.90 L221.37,114.90 L221.75,114.90 L222.14,114.90 L222.53,114.90 L222.91,114.90 L223.30,114.90 L223.69,114.90 L224.07,114.90 L224.46,114.90 L224.85,114.90 L225.23,114.90 L225.62,114.90 L226.01,114.90 L226.39,114.90 L226.78,114.90 L227.17,114.90 L227.55,114.90 L227.94,114.90 L228.33,114.90 L228.71,114.90 L229.10,114.90 L229.49,114.90 L229.87,114.90 L230.26,114.90 L230.65,114.90 L231.03,114.90 L231.42,114.90 L231.81,114.90 L232.19,114.90 L232.58,114.90 L232.97,114.90 L233.35,114.90 L233.74,114.90 L234.13,114.90 L234.51,114.90 L234.90,114.90 L234.90,114.90 Z" fill="rgb(50,50,16)" stroke="#000" stroke-width="0.7" stroke-linejoin="round"/>
<rect x="188.5" y="38.6" width="46.40" height="76.9" fill="none" stroke="#2a2a2a" stroke-width="1.1"/>
<line x1="194.70" y1="115.5" x2="194.70" y2="118.50" stroke="#000" stroke-width="0.85"/>
<line x1="211.10" y1="115.5" x2="211.10" y2="118.50" stroke="#000" stroke-width="0.85"/>
<line x1="229.80" y1="115.5" x2="229.80" y2="118.50" stroke="#000" stroke-width="0.85"/>
<line x1="199.64" y1="115.5" x2="199.64" y2="117.60" stroke="#000" stroke-width="0.85"/>
<line x1="202.52" y1="115.5" x2="202.52" y2="117.60" stroke="#000" stroke-width="0.85"/>
<line x1="204.57" y1="115.5" x2="204.57" y2="117.60" stroke="#000" stroke-width="0.85"/>
<line x1="206.16" y1="115.5" x2="206.16" y2="117.60" stroke="#000" stroke-width="0.85"/>
<line x1="207.46" y1="115.5" x2="207.46" y2="117.60" stroke="#000" stroke-width="0.85"/>
<line x1="208.56" y1="115.5" x2="208.56" y2="117.60" stroke="#000" stroke-width="0.85"/>
<line x1="209.51" y1="115.5" x2="209.51" y2="117.60" stroke="#000" stroke-width="0.85"/>
<line x1="210.35" y1="115.5" x2="210.35" y2="117.60" stroke="#000" stroke-width="0.85"/>
<line x1="216.73" y1="115.5" x2="216.73" y2="117.60" stroke="#000" stroke-width="0.85"/>
<line x1="220.02" y1="115.5" x2="220.02" y2="117.60" stroke="#000" stroke-width="0.85"/>
<line x1="222.36" y1="115.5" x2="222.36" y2="117.60" stroke="#000" stroke-width="0.85"/>
<line x1="224.17" y1="115.5" x2="224.17" y2="117.60" stroke="#000" stroke-width="0.85"/>
<line x1="225.65" y1="115.5" x2="225.65" y2="117.60" stroke="#000" stroke-width="0.85"/>
<line x1="226.90" y1="115.5" x2="226.90" y2="117.60" stroke="#000" stroke-width="0.85"/>
<line x1="227.99" y1="115.5" x2="227.99" y2="117.60" stroke="#000" stroke-width="0.85"/>
<line x1="228.94" y1="115.5" x2="228.94" y2="117.60" stroke="#000" stroke-width="0.85"/>
<line x1="196.00" y1="115.5" x2="196.00" y2="117.60" stroke="#000" stroke-width="0.85"/>
<line x1="197.30" y1="115.5" x2="197.30" y2="117.60" stroke="#000" stroke-width="0.85"/>
<line x1="198.50" y1="115.5" x2="198.50" y2="117.60" stroke="#000" stroke-width="0.85"/>
<path d="M240.90,77.10 L240.90,77.10 L241.29,77.10 L241.67,77.10 L242.06,77.10 L242.45,77.10 L242.83,77.10 L243.22,77.09 L243.61,77.09 L243.99,77.07 L244.38,77.05 L244.77,77.02 L245.15,76.97 L245.54,76.88 L245.93,76.75 L246.31,76.56 L246.70,76.27 L247.09,75.87 L247.47,75.30 L247.86,74.54 L248.25,73.54 L248.63,72.25 L249.02,70.66 L249.41,68.74 L249.79,66.49 L250.18,63.94 L250.57,61.15 L250.95,58.21 L251.34,55.24 L251.73,52.37 L252.11,49.77 L252.50,47.58 L252.89,45.95 L253.27,44.97 L253.66,44.71 L254.05,45.19 L254.43,46.39 L254.82,48.21 L255.21,50.54 L255.59,53.24 L255.98,56.15 L256.37,59.13 L256.75,62.04 L257.14,64.76 L257.53,67.22 L257.91,69.37 L258.30,71.19 L258.69,72.68 L259.07,73.87 L259.46,74.80 L259.85,75.50 L260.23,76.01 L260.62,76.37 L261.01,76.63 L261.39,76.80 L261.78,76.91 L262.17,76.99 L262.55,77.03 L262.94,77.06 L263.33,77.08 L263.71,77.09 L264.10,77.09 L264.49,77.10 L264.87,77.10 L265.26,77.10 L265.65,77.10 L266.03,77.10 L266.42,77.10 L266.81,77.10 L267.19,77.10 L267.58,77.10 L267.97,77.10 L268.35,77.10 L268.74,77.10 L269.13,77.10 L269.51,77.10 L269.90,77.10 L270.29,77.10 L270.67,77.10 L271.06,77.10 L271.45,77.10 L271.83,77.10 L272.22,77.10 L272.61,77.10 L272.99,77.10 L273.38,77.10 L273.77,77.10 L274.15,77.10 L274.54,77.10 L274.93,77.10 L275.31,77.10 L275.70,77.10 L276.09,77.10 L276.47,77.10 L276.86,77.10 L277.25,77.10 L277.63,77.10 L278.02,77.10 L278.41,77.10 L278.79,77.10 L279.18,77.10 L279.57,77.10 L279.95,77.10 L280.34,77.10 L280.73,77.10 L281.11,77.10 L281.50,77.10 L281.89,77.10 L282.27,77.10 L282.66,77.10 L283.05,77.10 L283.43,77.10 L283.82,77.10 L284.21,77.10 L284.59,77.10 L284.98,77.10 L285.37,77.10 L285.75,77.10 L286.14,77.10 L286.53,77.10 L286.91,77.10 L287.30,77.10 L287.30,77.10 Z" fill="rgb(0,0,0)" stroke="#000" stroke-width="0.7" stroke-linejoin="round"/>
<path d="M240.90,89.40 L240.90,89.40 L241.29,89.40 L241.67,89.40 L242.06,89.40 L242.45,89.40 L242.83,89.39 L243.22,89.39 L243.61,89.37 L243.99,89.34 L244.38,89.28 L244.77,89.19 L245.15,89.02 L245.54,88.74 L245.93,88.32 L246.31,87.67 L246.70,86.75 L247.09,85.48 L247.47,83.81 L247.86,81.70 L248.25,79.16 L248.63,76.24 L249.02,73.03 L249.41,69.69 L249.79,66.41 L250.18,63.39 L250.57,60.82 L250.95,58.86 L251.34,57.60 L251.73,57.05 L252.11,57.07 L252.50,57.69 L252.89,59.03 L253.27,61.06 L253.66,63.68 L254.05,66.74 L254.43,70.04 L254.82,73.37 L255.21,76.55 L255.59,79.44 L255.98,81.94 L256.37,84.01 L256.75,85.63 L257.14,86.86 L257.53,87.75 L257.91,88.37 L258.30,88.78 L258.69,89.04 L259.07,89.20 L259.46,89.29 L259.85,89.34 L260.23,89.37 L260.62,89.39 L261.01,89.39 L261.39,89.40 L261.78,89.40 L262.17,89.40 L262.55,89.40 L262.94,89.40 L263.33,89.40 L263.71,89.40 L264.10,89.40 L264.49,89.40 L264.87,89.40 L265.26,89.40 L265.65,89.40 L266.03,89.40 L266.42,89.40 L266.81,89.40 L267.19,89.40 L267.58,89.40 L267.97,89.40 L268.35,89.40 L268.74,89.40 L269.13,89.40 L269.51,89.40 L269.90,89.40 L270.29,89.40 L270.67,89.40 L271.06,89.40 L271.45,89.40 L271.83,89.40 L272.22,89.40 L272.61,89.40 L272.99,89.40 L273.38,89.40 L273.77,89.40 L274.15,89.40 L274.54,89.40 L274.93,89.40 L275.31,89.40 L275.70,89.40 L276.09,89.40 L276.47,89.40 L276.86,89.40 L277.25,89.40 L277.63,89.40 L278.02,89.40 L278.41,89.40 L278.79,89.40 L279.18,89.40 L279.57,89.40 L279.95,89.40 L280.34,89.40 L280.73,89.40 L281.11,89.40 L281.50,89.40 L281.89,89.40 L282.27,89.40 L282.66,89.40 L283.05,89.40 L283.43,89.40 L283.82,89.40 L284.21,89.40 L284.59,89.40 L284.98,89.40 L285.37,89.40 L285.75,89.40 L286.14,89.40 L286.53,89.40 L286.91,89.40 L287.30,89.40 L287.30,89.40 Z" fill="rgb(0,0,0)" stroke="#000" stroke-width="0.7" stroke-linejoin="round"/>
<path d="M240.90,102.10 L240.90,102.10 L241.29,102.10 L241.67,102.10 L242.06,102.10 L242.45,102.10 L242.83,102.10 L243.22,102.10 L243.61,102.10 L243.99,102.10 L244.38,102.10 L244.77,102.10 L245.15,102.10 L245.54,102.10 L245.93,102.10 L246.31,102.10 L246.70,102.10 L247.09,102.10 L247.47,102.10 L247.86,102.10 L248.25,102.10 L248.63,102.10 L249.02,102.10 L249.41,102.10 L249.79,102.10 L250.18,102.10 L250.57,102.10 L250.95,102.10 L251.34,102.10 L251.73,102.10 L252.11,102.10 L252.50,102.10 L252.89,102.10 L253.27,102.10 L253.66,102.10 L254.05,102.10 L254.43,102.10 L254.82,102.10 L255.21,102.10 L255.59,102.10 L255.98,102.09 L256.37,102.08 L256.75,102.04 L257.14,101.97 L257.53,101.84 L257.91,101.58 L258.30,101.13 L258.69,100.37 L259.07,99.18 L259.46,97.41 L259.85,94.95 L260.23,91.75 L260.62,87.88 L261.01,83.54 L261.39,79.11 L261.78,75.05 L262.17,71.88 L262.55,70.04 L262.94,69.77 L263.33,70.61 L263.71,72.36 L264.10,74.85 L264.49,77.90 L264.87,81.25 L265.26,84.68 L265.65,87.98 L266.03,91.01 L266.42,93.65 L266.81,95.85 L267.19,97.62 L267.58,98.99 L267.97,100.00 L268.35,100.73 L268.74,101.23 L269.13,101.57 L269.51,101.78 L269.90,101.92 L270.29,102.00 L270.67,102.04 L271.06,102.07 L271.45,102.08 L271.83,102.09 L272.22,102.10 L272.61,102.10 L272.99,102.10 L273.38,102.10 L273.77,102.10 L274.15,102.10 L274.54,102.10 L274.93,102.10 L275.31,102.10 L275.70,102.10 L276.09,102.10 L276.47,102.10 L276.86,102.10 L277.25,102.10 L277.63,102.10 L278.02,102.10 L278.41,102.10 L278.79,102.10 L279.18,102.10 L279.57,102.10 L279.95,102.10 L280.34,102.10 L280.73,102.10 L281.11,102.10 L281.50,102.10 L281.89,102.10 L282.27,102.10 L282.66,102.10 L283.05,102.10 L283.43,102.10 L283.82,102.10 L284.21,102.10 L284.59,102.10 L284.98,102.10 L285.37,102.10 L285.75,102.10 L286.14,102.10 L286.53,102.10 L286.91,102.10 L287.30,102.10 L287.30,102.10 Z" fill="rgb(225,217,42)" stroke="#000" stroke-width="0.7" stroke-linejoin="round"/>
<path d="M240.90,114.90 L240.90,114.90 L241.29,114.90 L241.67,114.90 L242.06,114.90 L242.45,114.90 L242.83,114.90 L243.22,114.90 L243.61,114.90 L243.99,114.90 L244.38,114.90 L244.77,114.90 L245.15,114.89 L245.54,114.89 L245.93,114.88 L246.31,114.86 L246.70,114.84 L247.09,114.79 L247.47,114.72 L247.86,114.60 L248.25,114.42 L248.63,114.16 L249.02,113.77 L249.41,113.22 L249.79,112.47 L250.18,111.47 L250.57,110.18 L250.95,108.55 L251.34,106.57 L251.73,104.24 L252.11,101.60 L252.50,98.70 L252.89,95.65 L253.27,92.58 L253.66,89.66 L254.05,87.04 L254.43,84.90 L254.82,83.39 L255.21,82.60 L255.59,82.60 L255.98,83.39 L256.37,84.90 L256.75,87.04 L257.14,89.66 L257.53,92.58 L257.91,95.65 L258.30,98.70 L258.69,101.60 L259.07,104.24 L259.46,106.57 L259.85,108.55 L260.23,110.18 L260.62,111.47 L261.01,112.47 L261.39,113.22 L261.78,113.77 L262.17,114.16 L262.55,114.42 L262.94,114.60 L263.33,114.72 L263.71,114.79 L264.10,114.84 L264.49,114.86 L264.87,114.88 L265.26,114.89 L265.65,114.89 L266.03,114.90 L266.42,114.90 L266.81,114.90 L267.19,114.90 L267.58,114.90 L267.97,114.90 L268.35,114.90 L268.74,114.90 L269.13,114.90 L269.51,114.90 L269.90,114.90 L270.29,114.90 L270.67,114.90 L271.06,114.90 L271.45,114.90 L271.83,114.90 L272.22,114.90 L272.61,114.90 L272.99,114.90 L273.38,114.90 L273.77,114.90 L274.15,114.90 L274.54,114.90 L274.93,114.90 L275.31,114.90 L275.70,114.90 L276.09,114.90 L276.47,114.90 L276.86,114.90 L277.25,114.90 L277.63,114.90 L278.02,114.90 L278.41,114.90 L278.79,114.90 L279.18,114.90 L279.57,114.90 L279.95,114.90 L280.34,114.90 L280.73,114.90 L281.11,114.90 L281.50,114.90 L281.89,114.90 L282.27,114.90 L282.66,114.90 L283.05,114.90 L283.43,114.90 L283.82,114.90 L284.21,114.90 L284.59,114.90 L284.98,114.90 L285.37,114.90 L285.75,114.90 L286.14,114.90 L286.53,114.90 L286.91,114.90 L287.30,114.90 L287.30,114.90 Z" fill="rgb(60,56,16)" stroke="#000" stroke-width="0.7" stroke-linejoin="round"/>
<rect x="240.9" y="38.6" width="46.40" height="76.9" fill="none" stroke="#2a2a2a" stroke-width="1.1"/>
<line x1="247.10" y1="115.5" x2="247.10" y2="118.50" stroke="#000" stroke-width="0.85"/>
<line x1="263.50" y1="115.5" x2="263.50" y2="118.50" stroke="#000" stroke-width="0.85"/>
<line x1="282.20" y1="115.5" x2="282.20" y2="118.50" stroke="#000" stroke-width="0.85"/>
<line x1="252.04" y1="115.5" x2="252.04" y2="117.60" stroke="#000" stroke-width="0.85"/>
<line x1="254.92" y1="115.5" x2="254.92" y2="117.60" stroke="#000" stroke-width="0.85"/>
<line x1="256.97" y1="115.5" x2="256.97" y2="117.60" stroke="#000" stroke-width="0.85"/>
<line x1="258.56" y1="115.5" x2="258.56" y2="117.60" stroke="#000" stroke-width="0.85"/>
<line x1="259.86" y1="115.5" x2="259.86" y2="117.60" stroke="#000" stroke-width="0.85"/>
<line x1="260.96" y1="115.5" x2="260.96" y2="117.60" stroke="#000" stroke-width="0.85"/>
<line x1="261.91" y1="115.5" x2="261.91" y2="117.60" stroke="#000" stroke-width="0.85"/>
<line x1="262.75" y1="115.5" x2="262.75" y2="117.60" stroke="#000" stroke-width="0.85"/>
<line x1="269.13" y1="115.5" x2="269.13" y2="117.60" stroke="#000" stroke-width="0.85"/>
<line x1="272.42" y1="115.5" x2="272.42" y2="117.60" stroke="#000" stroke-width="0.85"/>
<line x1="274.76" y1="115.5" x2="274.76" y2="117.60" stroke="#000" stroke-width="0.85"/>
<line x1="276.57" y1="115.5" x2="276.57" y2="117.60" stroke="#000" stroke-width="0.85"/>
<line x1="278.05" y1="115.5" x2="278.05" y2="117.60" stroke="#000" stroke-width="0.85"/>
<line x1="279.30" y1="115.5" x2="279.30" y2="117.60" stroke="#000" stroke-width="0.85"/>
<line x1="280.39" y1="115.5" x2="280.39" y2="117.60" stroke="#000" stroke-width="0.85"/>
<line x1="281.34" y1="115.5" x2="281.34" y2="117.60" stroke="#000" stroke-width="0.85"/>
<line x1="248.40" y1="115.5" x2="248.40" y2="117.60" stroke="#000" stroke-width="0.85"/>
<line x1="249.70" y1="115.5" x2="249.70" y2="117.60" stroke="#000" stroke-width="0.85"/>
<line x1="250.90" y1="115.5" x2="250.90" y2="117.60" stroke="#000" stroke-width="0.85"/>
<path d="M302.90,77.10 L302.90,77.10 L303.29,77.10 L303.67,77.10 L304.06,77.10 L304.44,77.10 L304.83,77.10 L305.21,77.09 L305.60,77.09 L305.99,77.07 L306.37,77.05 L306.76,77.02 L307.14,76.97 L307.53,76.88 L307.92,76.74 L308.30,76.53 L308.69,76.22 L309.07,75.77 L309.46,75.15 L309.84,74.31 L310.23,73.20 L310.62,71.79 L311.00,70.03 L311.39,67.92 L311.77,65.47 L312.16,62.72 L312.55,59.76 L312.93,56.69 L313.32,53.67 L313.70,50.84 L314.09,48.39 L314.47,46.47 L314.86,45.21 L315.25,44.71 L315.63,44.99 L316.02,46.05 L316.40,47.80 L316.79,50.12 L317.18,52.86 L317.56,55.85 L317.95,58.92 L318.33,61.92 L318.72,64.74 L319.10,67.28 L319.49,69.48 L319.88,71.33 L320.26,72.84 L320.65,74.03 L321.03,74.94 L321.42,75.62 L321.81,76.11 L322.19,76.45 L322.58,76.69 L322.96,76.84 L323.35,76.94 L323.73,77.01 L324.12,77.05 L324.51,77.07 L324.89,77.08 L325.28,77.09 L325.66,77.10 L326.05,77.10 L326.44,77.10 L326.82,77.10 L327.21,77.10 L327.59,77.10 L327.98,77.10 L328.37,77.10 L328.75,77.10 L329.14,77.10 L329.52,77.10 L329.91,77.10 L330.29,77.10 L330.68,77.10 L331.07,77.10 L331.45,77.10 L331.84,77.10 L332.22,77.10 L332.61,77.10 L333.00,77.10 L333.38,77.10 L333.77,77.10 L334.15,77.10 L334.54,77.10 L334.92,77.10 L335.31,77.10 L335.70,77.10 L336.08,77.10 L336.47,77.10 L336.85,77.10 L337.24,77.10 L337.62,77.10 L338.01,77.10 L338.40,77.10 L338.78,77.10 L339.17,77.10 L339.55,77.10 L339.94,77.10 L340.33,77.10 L340.71,77.10 L341.10,77.10 L341.48,77.10 L341.87,77.10 L342.25,77.10 L342.64,77.10 L343.03,77.10 L343.41,77.10 L343.80,77.10 L344.18,77.10 L344.57,77.10 L344.96,77.10 L345.34,77.10 L345.73,77.10 L346.11,77.10 L346.50,77.10 L346.88,77.10 L347.27,77.10 L347.66,77.10 L348.04,77.10 L348.43,77.10 L348.81,77.10 L349.20,77.10 L349.20,77.10 Z" fill="rgb(0,0,0)" stroke="#000" stroke-width="0.7" stroke-linejoin="round"/>
<path d="M302.90,89.40 L302.90,89.40 L303.29,89.40 L303.67,89.40 L304.06,89.40 L304.44,89.40 L304.83,89.40 L305.21,89.40 L305.60,89.40 L305.99,89.40 L306.37,89.39 L306.76,89.37 L307.14,89.34 L307.53,89.27 L307.92,89.14 L308.30,88.91 L308.69,88.50 L309.07,87.83 L309.46,86.82 L309.84,85.36 L310.23,83.37 L310.62,80.82 L311.00,77.75 L311.39,74.26 L311.77,70.55 L312.16,66.88 L312.55,63.52 L312.93,60.72 L313.32,58.67 L313.70,57.45 L314.09,57.01 L314.47,57.13 L314.86,57.95 L315.25,59.65 L315.63,62.23 L316.02,65.51 L316.40,69.23 L316.79,73.10 L317.18,76.81 L317.56,80.13 L317.95,82.90 L318.33,85.07 L318.72,86.66 L319.10,87.76 L319.49,88.47 L319.88,88.90 L320.26,89.15 L320.65,89.28 L321.03,89.35 L321.42,89.38 L321.81,89.39 L322.19,89.40 L322.58,89.40 L322.96,89.40 L323.35,89.40 L323.73,89.40 L324.12,89.40 L324.51,89.40 L324.89,89.40 L325.28,89.40 L325.66,89.40 L326.05,89.40 L326.44,89.40 L326.82,89.40 L327.21,89.40 L327.59,89.40 L327.98,89.40 L328.37,89.40 L328.75,89.40 L329.14,89.40 L329.52,89.40 L329.91,89.40 L330.29,89.40 L330.68,89.40 L331.07,89.40 L331.45,89.40 L331.84,89.40 L332.22,89.40 L332.61,89.40 L333.00,89.40 L333.38,89.40 L333.77,89.40 L334.15,89.40 L334.54,89.40 L334.92,89.40 L335.31,89.40 L335.70,89.40 L336.08,89.40 L336.47,89.40 L336.85,89.40 L337.24,89.40 L337.62,89.40 L338.01,89.40 L338.40,89.40 L338.78,89.40 L339.17,89.40 L339.55,89.40 L339.94,89.40 L340.33,89.40 L340.71,89.40 L341.10,89.40 L341.48,89.40 L341.87,89.40 L342.25,89.40 L342.64,89.40 L343.03,89.40 L343.41,89.40 L343.80,89.40 L344.18,89.40 L344.57,89.40 L344.96,89.40 L345.34,89.40 L345.73,89.40 L346.11,89.40 L346.50,89.40 L346.88,89.40 L347.27,89.40 L347.66,89.40 L348.04,89.40 L348.43,89.40 L348.81,89.40 L349.20,89.40 L349.20,89.40 Z" fill="rgb(22,22,58)" stroke="#000" stroke-width="0.7" stroke-linejoin="round"/>
<path d="M302.90,102.10 L302.90,102.05 L303.29,102.04 L303.67,102.02 L304.06,102.01 L304.44,101.98 L304.83,101.96 L305.21,101.93 L305.60,101.89 L305.99,101.85 L306.37,101.81 L306.76,101.76 L307.14,101.70 L307.53,101.64 L307.92,101.58 L308.30,101.51 L308.69,101.43 L309.07,101.36 L309.46,101.28 L309.84,101.20 L310.23,101.12 L310.62,101.04 L311.00,100.96 L311.39,100.89 L311.77,100.83 L312.16,100.77 L312.55,100.73 L312.93,100.69 L313.32,100.66 L313.70,100.65 L314.09,100.64 L314.47,100.65 L314.86,100.67 L315.25,100.70 L315.63,100.75 L316.02,100.80 L316.40,100.86 L316.79,100.93 L317.18,101.00 L317.56,101.07 L317.95,101.15 L318.33,101.23 L318.72,101.31 L319.10,101.39 L319.49,101.47 L319.88,101.54 L320.26,101.61 L320.65,101.67 L321.03,101.73 L321.42,101.77 L321.81,101.81 L322.19,101.82 L322.58,101.80 L322.96,101.71 L323.35,101.51 L323.73,101.12 L324.12,100.44 L324.51,99.35 L324.89,97.71 L325.28,95.40 L325.66,92.35 L326.05,88.60 L326.44,84.34 L326.82,79.90 L327.21,75.74 L327.59,72.38 L327.98,70.27 L328.37,69.71 L328.75,70.48 L329.14,72.31 L329.52,75.03 L329.91,78.37 L330.29,82.02 L330.68,85.71 L331.07,89.19 L331.45,92.30 L331.84,94.91 L332.22,97.02 L332.61,98.63 L333.00,99.82 L333.38,100.65 L333.77,101.21 L334.15,101.57 L334.54,101.80 L334.92,101.94 L335.31,102.01 L335.70,102.06 L336.08,102.08 L336.47,102.09 L336.85,102.10 L337.24,102.10 L337.62,102.10 L338.01,102.10 L338.40,102.10 L338.78,102.10 L339.17,102.10 L339.55,102.10 L339.94,102.10 L340.33,102.10 L340.71,102.10 L341.10,102.10 L341.48,102.10 L341.87,102.10 L342.25,102.10 L342.64,102.10 L343.03,102.10 L343.41,102.10 L343.80,102.10 L344.18,102.10 L344.57,102.10 L344.96,102.10 L345.34,102.10 L345.73,102.10 L346.11,102.10 L346.50,102.10 L346.88,102.10 L347.27,102.10 L347.66,102.10 L348.04,102.10 L348.43,102.10 L348.81,102.10 L349.20,102.10 L349.20,102.10 Z" fill="rgb(232,226,62)" stroke="#000" stroke-width="0.7" stroke-linejoin="round"/>
<path d="M302.90,114.90 L302.90,114.89 L303.29,114.88 L303.67,114.88 L304.06,114.88 L304.44,114.87 L304.83,114.87 L305.21,114.86 L305.60,114.86 L305.99,114.85 L306.37,114.84 L306.76,114.83 L307.14,114.81 L307.53,114.80 L307.92,114.78 L308.30,114.75 L308.69,114.73 L309.07,114.70 L309.46,114.66 L309.84,114.62 L310.23,114.57 L310.62,114.51 L311.00,114.44 L311.39,114.36 L311.77,114.26 L312.16,114.16 L312.55,114.03 L312.93,113.89 L313.32,113.72 L313.70,113.52 L314.09,113.30 L314.47,113.05 L314.86,112.75 L315.25,112.42 L315.63,112.03 L316.02,111.59 L316.40,111.09 L316.79,110.53 L317.18,109.88 L317.56,109.16 L317.95,108.35 L318.33,107.43 L318.72,106.41 L319.10,105.27 L319.49,104.01 L319.88,102.61 L320.26,101.08 L320.65,99.40 L321.03,97.58 L321.42,95.62 L321.81,93.53 L322.19,91.33 L322.58,89.05 L322.96,86.75 L323.35,84.53 L323.73,82.69 L324.12,82.90 L324.51,84.39 L324.89,86.83 L325.28,89.99 L325.66,93.57 L326.05,97.28 L326.44,100.86 L326.82,104.10 L327.21,106.89 L327.59,109.17 L327.98,110.94 L328.37,112.26 L328.75,113.20 L329.14,113.85 L329.52,114.27 L329.91,114.54 L330.29,114.70 L330.68,114.79 L331.07,114.84 L331.45,114.87 L331.84,114.89 L332.22,114.89 L332.61,114.90 L333.00,114.90 L333.38,114.90 L333.77,114.90 L334.15,114.90 L334.54,114.90 L334.92,114.90 L335.31,114.90 L335.70,114.90 L336.08,114.90 L336.47,114.90 L336.85,114.90 L337.24,114.90 L337.62,114.90 L338.01,114.90 L338.40,114.90 L338.78,114.90 L339.17,114.90 L339.55,114.90 L339.94,114.90 L340.33,114.90 L340.71,114.90 L341.10,114.90 L341.48,114.90 L341.87,114.90 L342.25,114.90 L342.64,114.90 L343.03,114.90 L343.41,114.90 L343.80,114.90 L344.18,114.90 L344.57,114.90 L344.96,114.90 L345.34,114.90 L345.73,114.90 L346.11,114.90 L346.50,114.90 L346.88,114.90 L347.27,114.90 L347.66,114.90 L348.04,114.90 L348.43,114.90 L348.81,114.90 L349.20,114.90 L349.20,114.90 Z" fill="rgb(228,222,56)" stroke="#000" stroke-width="0.7" stroke-linejoin="round"/>
<rect x="302.9" y="38.6" width="46.30" height="76.9" fill="none" stroke="#2a2a2a" stroke-width="1.1"/>
<line x1="309.10" y1="115.5" x2="309.10" y2="118.50" stroke="#000" stroke-width="0.85"/>
<line x1="325.50" y1="115.5" x2="325.50" y2="118.50" stroke="#000" stroke-width="0.85"/>
<line x1="344.20" y1="115.5" x2="344.20" y2="118.50" stroke="#000" stroke-width="0.85"/>
<line x1="314.04" y1="115.5" x2="314.04" y2="117.60" stroke="#000" stroke-width="0.85"/>
<line x1="316.92" y1="115.5" x2="316.92" y2="117.60" stroke="#000" stroke-width="0.85"/>
<line x1="318.97" y1="115.5" x2="318.97" y2="117.60" stroke="#000" stroke-width="0.85"/>
<line x1="320.56" y1="115.5" x2="320.56" y2="117.60" stroke="#000" stroke-width="0.85"/>
<line x1="321.86" y1="115.5" x2="321.86" y2="117.60" stroke="#000" stroke-width="0.85"/>
<line x1="322.96" y1="115.5" x2="322.96" y2="117.60" stroke="#000" stroke-width="0.85"/>
<line x1="323.91" y1="115.5" x2="323.91" y2="117.60" stroke="#000" stroke-width="0.85"/>
<line x1="324.75" y1="115.5" x2="324.75" y2="117.60" stroke="#000" stroke-width="0.85"/>
<line x1="331.13" y1="115.5" x2="331.13" y2="117.60" stroke="#000" stroke-width="0.85"/>
<line x1="334.42" y1="115.5" x2="334.42" y2="117.60" stroke="#000" stroke-width="0.85"/>
<line x1="336.76" y1="115.5" x2="336.76" y2="117.60" stroke="#000" stroke-width="0.85"/>
<line x1="338.57" y1="115.5" x2="338.57" y2="117.60" stroke="#000" stroke-width="0.85"/>
<line x1="340.05" y1="115.5" x2="340.05" y2="117.60" stroke="#000" stroke-width="0.85"/>
<line x1="341.30" y1="115.5" x2="341.30" y2="117.60" stroke="#000" stroke-width="0.85"/>
<line x1="342.39" y1="115.5" x2="342.39" y2="117.60" stroke="#000" stroke-width="0.85"/>
<line x1="343.34" y1="115.5" x2="343.34" y2="117.60" stroke="#000" stroke-width="0.85"/>
<line x1="310.40" y1="115.5" x2="310.40" y2="117.60" stroke="#000" stroke-width="0.85"/>
<line x1="311.70" y1="115.5" x2="311.70" y2="117.60" stroke="#000" stroke-width="0.85"/>
<line x1="312.90" y1="115.5" x2="312.90" y2="117.60" stroke="#000" stroke-width="0.85"/>
<path d="M356.00,77.10 L356.00,77.10 L356.38,77.10 L356.77,77.10 L357.15,77.10 L357.54,77.10 L357.92,77.10 L358.31,77.10 L358.69,77.10 L359.07,77.10 L359.46,77.10 L359.84,77.10 L360.23,77.10 L360.61,77.10 L360.99,77.10 L361.38,77.10 L361.76,77.10 L362.15,77.10 L362.53,77.10 L362.92,77.10 L363.30,77.10 L363.68,77.10 L364.07,77.10 L364.45,77.10 L364.84,77.10 L365.22,77.10 L365.60,77.09 L365.99,77.08 L366.37,77.07 L366.76,77.05 L367.14,77.01 L367.52,76.95 L367.91,76.85 L368.29,76.70 L368.68,76.48 L369.06,76.14 L369.45,75.67 L369.83,75.02 L370.21,74.13 L370.60,72.98 L370.98,71.51 L371.37,69.70 L371.75,67.55 L372.13,65.06 L372.52,62.28 L372.90,59.31 L373.29,56.25 L373.67,53.25 L374.06,50.48 L374.44,48.10 L374.82,46.27 L375.21,45.11 L375.59,44.70 L375.98,45.21 L376.36,46.71 L376.75,49.08 L377.13,52.10 L377.51,55.51 L377.90,59.06 L378.28,62.51 L378.67,65.68 L379.05,68.45 L379.43,70.75 L379.82,72.60 L380.20,74.01 L380.59,75.04 L380.97,75.78 L381.36,76.28 L381.74,76.60 L382.12,76.81 L382.51,76.94 L382.89,77.01 L383.28,77.05 L383.66,77.08 L384.04,77.09 L384.43,77.09 L384.81,77.10 L385.20,77.10 L385.58,77.10 L385.97,77.10 L386.35,77.10 L386.73,77.10 L387.12,77.10 L387.50,77.10 L387.89,77.10 L388.27,77.10 L388.65,77.10 L389.04,77.10 L389.42,77.10 L389.81,77.10 L390.19,77.10 L390.58,77.10 L390.96,77.10 L391.34,77.10 L391.73,77.10 L392.11,77.10 L392.50,77.10 L392.88,77.10 L393.26,77.10 L393.65,77.10 L394.03,77.10 L394.42,77.10 L394.80,77.10 L395.19,77.10 L395.57,77.10 L395.95,77.10 L396.34,77.10 L396.72,77.10 L397.11,77.10 L397.49,77.10 L397.87,77.10 L398.26,77.10 L398.64,77.10 L399.03,77.10 L399.41,77.10 L399.80,77.10 L400.18,77.10 L400.56,77.10 L400.95,77.10 L401.33,77.10 L401.72,77.10 L402.10,77.10 L402.10,77.10 Z" fill="rgb(0,0,0)" stroke="#000" stroke-width="0.7" stroke-linejoin="round"/>
<path d="M356.00,89.40 L356.00,89.40 L356.38,89.40 L356.77,89.40 L357.15,89.40 L357.54,89.40 L357.92,89.40 L358.31,89.40 L358.69,89.40 L359.07,89.40 L359.46,89.40 L359.84,89.40 L360.23,89.40 L360.61,89.40 L360.99,89.40 L361.38,89.40 L361.76,89.40 L362.15,89.40 L362.53,89.40 L362.92,89.40 L363.30,89.40 L363.68,89.40 L364.07,89.40 L364.45,89.39 L364.84,89.38 L365.22,89.36 L365.60,89.30 L365.99,89.17 L366.37,88.92 L366.76,88.46 L367.14,87.67 L367.52,86.44 L367.91,84.63 L368.29,82.17 L368.68,79.06 L369.06,75.41 L369.45,71.47 L369.83,67.58 L370.21,64.10 L370.60,61.35 L370.98,59.55 L371.37,58.72 L371.75,58.66 L372.13,59.43 L372.52,61.36 L372.90,64.40 L373.29,68.28 L373.67,72.57 L374.06,76.79 L374.44,80.56 L374.82,83.60 L375.21,85.86 L375.59,87.39 L375.98,88.34 L376.36,88.89 L376.75,89.17 L377.13,89.30 L377.51,89.36 L377.90,89.39 L378.28,89.40 L378.67,89.40 L379.05,89.40 L379.43,89.40 L379.82,89.40 L380.20,89.40 L380.59,89.40 L380.97,89.40 L381.36,89.40 L381.74,89.40 L382.12,89.40 L382.51,89.40 L382.89,89.40 L383.28,89.40 L383.66,89.40 L384.04,89.40 L384.43,89.40 L384.81,89.40 L385.20,89.40 L385.58,89.40 L385.97,89.40 L386.35,89.40 L386.73,89.40 L387.12,89.40 L387.50,89.40 L387.89,89.40 L388.27,89.40 L388.65,89.40 L389.04,89.40 L389.42,89.40 L389.81,89.40 L390.19,89.40 L390.58,89.40 L390.96,89.40 L391.34,89.40 L391.73,89.40 L392.11,89.40 L392.50,89.40 L392.88,89.40 L393.26,89.40 L393.65,89.40 L394.03,89.40 L394.42,89.40 L394.80,89.40 L395.19,89.40 L395.57,89.40 L395.95,89.40 L396.34,89.40 L396.72,89.40 L397.11,89.40 L397.49,89.40 L397.87,89.40 L398.26,89.40 L398.64,89.40 L399.03,89.40 L399.41,89.40 L399.80,89.40 L400.18,89.40 L400.56,89.40 L400.95,89.40 L401.33,89.40 L401.72,89.40 L402.10,89.40 L402.10,89.40 Z" fill="rgb(58,52,152)" stroke="#000" stroke-width="0.7" stroke-linejoin="round"/>
<path d="M356.00,102.10 L356.00,102.10 L356.38,102.10 L356.77,102.10 L357.15,102.10 L357.54,102.10 L357.92,102.10 L358.31,102.10 L358.69,102.10 L359.07,102.10 L359.46,102.10 L359.84,102.10 L360.23,102.10 L360.61,102.10 L360.99,102.10 L361.38,102.10 L361.76,102.10 L362.15,102.10 L362.53,102.10 L362.92,102.10 L363.30,102.10 L363.68,102.10 L364.07,102.10 L364.45,102.10 L364.84,102.10 L365.22,102.10 L365.60,102.10 L365.99,102.10 L366.37,102.10 L366.76,102.10 L367.14,102.10 L367.52,102.10 L367.91,102.10 L368.29,102.10 L368.68,102.10 L369.06,102.10 L369.45,102.10 L369.83,102.10 L370.21,102.10 L370.60,102.10 L370.98,102.10 L371.37,102.10 L371.75,102.10 L372.13,102.10 L372.52,102.10 L372.90,102.10 L373.29,102.10 L373.67,102.10 L374.06,102.10 L374.44,102.10 L374.82,102.10 L375.21,102.10 L375.59,102.10 L375.98,102.10 L376.36,102.10 L376.75,102.10 L377.13,102.10 L377.51,102.10 L377.90,102.10 L378.28,102.10 L378.67,102.09 L379.05,102.09 L379.43,102.07 L379.82,102.02 L380.20,101.92 L380.59,101.72 L380.97,101.35 L381.36,100.70 L381.74,99.63 L382.12,97.98 L382.51,95.60 L382.89,92.42 L383.28,88.48 L383.66,83.98 L384.04,79.34 L384.43,75.07 L384.81,71.78 L385.20,69.96 L385.58,69.79 L385.97,70.60 L386.35,72.18 L386.73,74.41 L387.12,77.14 L387.50,80.17 L387.89,83.34 L388.27,86.46 L388.65,89.40 L389.04,92.05 L389.42,94.35 L389.81,96.28 L390.19,97.84 L390.58,99.06 L390.96,99.99 L391.34,100.67 L391.73,101.16 L392.11,101.50 L392.50,101.72 L392.88,101.87 L393.26,101.96 L393.65,102.02 L394.03,102.06 L394.42,102.08 L394.80,102.09 L395.19,102.09 L395.57,102.10 L395.95,102.10 L396.34,102.10 L396.72,102.10 L397.11,102.10 L397.49,102.10 L397.87,102.10 L398.26,102.10 L398.64,102.10 L399.03,102.10 L399.41,102.10 L399.80,102.10 L400.18,102.10 L400.56,102.10 L400.95,102.10 L401.33,102.10 L401.72,102.10 L402.10,102.10 L402.10,102.10 Z" fill="rgb(236,228,92)" stroke="#000" stroke-width="0.7" stroke-linejoin="round"/>
<path d="M356.00,114.90 L356.00,114.90 L356.38,114.90 L356.77,114.90 L357.15,114.90 L357.54,114.90 L357.92,114.90 L358.31,114.90 L358.69,114.90 L359.07,114.90 L359.46,114.90 L359.84,114.90 L360.23,114.90 L360.61,114.89 L360.99,114.89 L361.38,114.89 L361.76,114.89 L362.15,114.88 L362.53,114.88 L362.92,114.88 L363.30,114.87 L363.68,114.86 L364.07,114.85 L364.45,114.84 L364.84,114.82 L365.22,114.81 L365.60,114.78 L365.99,114.76 L366.37,114.72 L366.76,114.68 L367.14,114.63 L367.52,114.57 L367.91,114.50 L368.29,114.41 L368.68,114.31 L369.06,114.18 L369.45,114.03 L369.83,113.85 L370.21,113.63 L370.60,113.37 L370.98,113.07 L371.37,112.72 L371.75,112.30 L372.13,111.81 L372.52,111.24 L372.90,110.59 L373.29,109.83 L373.67,108.96 L374.06,107.97 L374.44,106.84 L374.82,105.57 L375.21,104.15 L375.59,102.56 L375.98,100.82 L376.36,98.90 L376.75,96.84 L377.13,94.63 L377.51,92.31 L377.90,89.92 L378.28,87.53 L378.67,85.26 L379.05,83.31 L379.43,82.60 L379.82,83.97 L380.20,86.76 L380.59,90.58 L380.97,94.93 L381.36,99.31 L381.74,103.34 L382.12,106.76 L382.51,109.45 L382.89,111.43 L383.28,112.81 L383.66,113.70 L384.04,114.24 L384.43,114.56 L384.81,114.73 L385.20,114.82 L385.58,114.87 L385.97,114.89 L386.35,114.89 L386.73,114.90 L387.12,114.90 L387.50,114.90 L387.89,114.90 L388.27,114.90 L388.65,114.90 L389.04,114.90 L389.42,114.90 L389.81,114.90 L390.19,114.90 L390.58,114.90 L390.96,114.90 L391.34,114.90 L391.73,114.90 L392.11,114.90 L392.50,114.90 L392.88,114.90 L393.26,114.90 L393.65,114.90 L394.03,114.90 L394.42,114.90 L394.80,114.90 L395.19,114.90 L395.57,114.90 L395.95,114.90 L396.34,114.90 L396.72,114.90 L397.11,114.90 L397.49,114.90 L397.87,114.90 L398.26,114.90 L398.64,114.90 L399.03,114.90 L399.41,114.90 L399.80,114.90 L400.18,114.90 L400.56,114.90 L400.95,114.90 L401.33,114.90 L401.72,114.90 L402.10,114.90 L402.10,114.90 Z" fill="rgb(128,122,38)" stroke="#000" stroke-width="0.7" stroke-linejoin="round"/>
<rect x="356.0" y="38.6" width="46.10" height="76.9" fill="none" stroke="#2a2a2a" stroke-width="1.1"/>
<line x1="362.20" y1="115.5" x2="362.20" y2="118.50" stroke="#000" stroke-width="0.85"/>
<line x1="378.60" y1="115.5" x2="378.60" y2="118.50" stroke="#000" stroke-width="0.85"/>
<line x1="397.30" y1="115.5" x2="397.30" y2="118.50" stroke="#000" stroke-width="0.85"/>
<line x1="367.14" y1="115.5" x2="367.14" y2="117.60" stroke="#000" stroke-width="0.85"/>
<line x1="370.02" y1="115.5" x2="370.02" y2="117.60" stroke="#000" stroke-width="0.85"/>
<line x1="372.07" y1="115.5" x2="372.07" y2="117.60" stroke="#000" stroke-width="0.85"/>
<line x1="373.66" y1="115.5" x2="373.66" y2="117.60" stroke="#000" stroke-width="0.85"/>
<line x1="374.96" y1="115.5" x2="374.96" y2="117.60" stroke="#000" stroke-width="0.85"/>
<line x1="376.06" y1="115.5" x2="376.06" y2="117.60" stroke="#000" stroke-width="0.85"/>
<line x1="377.01" y1="115.5" x2="377.01" y2="117.60" stroke="#000" stroke-width="0.85"/>
<line x1="377.85" y1="115.5" x2="377.85" y2="117.60" stroke="#000" stroke-width="0.85"/>
<line x1="384.23" y1="115.5" x2="384.23" y2="117.60" stroke="#000" stroke-width="0.85"/>
<line x1="387.52" y1="115.5" x2="387.52" y2="117.60" stroke="#000" stroke-width="0.85"/>
<line x1="389.86" y1="115.5" x2="389.86" y2="117.60" stroke="#000" stroke-width="0.85"/>
<line x1="391.67" y1="115.5" x2="391.67" y2="117.60" stroke="#000" stroke-width="0.85"/>
<line x1="393.15" y1="115.5" x2="393.15" y2="117.60" stroke="#000" stroke-width="0.85"/>
<line x1="394.40" y1="115.5" x2="394.40" y2="117.60" stroke="#000" stroke-width="0.85"/>
<line x1="395.49" y1="115.5" x2="395.49" y2="117.60" stroke="#000" stroke-width="0.85"/>
<line x1="396.44" y1="115.5" x2="396.44" y2="117.60" stroke="#000" stroke-width="0.85"/>
<line x1="363.50" y1="115.5" x2="363.50" y2="117.60" stroke="#000" stroke-width="0.85"/>
<line x1="364.80" y1="115.5" x2="364.80" y2="117.60" stroke="#000" stroke-width="0.85"/>
<line x1="366.00" y1="115.5" x2="366.00" y2="117.60" stroke="#000" stroke-width="0.85"/>
<path d="M408.30,77.10 L408.30,77.10 L408.69,77.10 L409.08,77.10 L409.47,77.10 L409.86,77.10 L410.25,77.10 L410.64,77.10 L411.03,77.10 L411.42,77.10 L411.81,77.10 L412.20,77.10 L412.59,77.10 L412.98,77.10 L413.37,77.10 L413.76,77.10 L414.15,77.10 L414.54,77.10 L414.93,77.10 L415.32,77.10 L415.71,77.10 L416.10,77.10 L416.49,77.09 L416.88,77.09 L417.27,77.07 L417.66,77.03 L418.05,76.95 L418.44,76.80 L418.83,76.53 L419.22,76.06 L419.61,75.30 L420.00,74.13 L420.39,72.43 L420.78,70.08 L421.17,67.06 L421.56,63.40 L421.95,59.28 L422.34,55.00 L422.73,50.97 L423.12,47.65 L423.51,45.47 L423.90,44.70 L424.29,45.47 L424.68,47.65 L425.07,50.97 L425.46,55.00 L425.85,59.28 L426.24,63.40 L426.63,67.06 L427.02,70.08 L427.41,72.43 L427.80,74.13 L428.19,75.30 L428.58,76.06 L428.97,76.53 L429.36,76.80 L429.75,76.95 L430.14,77.03 L430.53,77.07 L430.92,77.09 L431.31,77.09 L431.70,77.10 L432.09,77.10 L432.48,77.10 L432.87,77.10 L433.26,77.10 L433.65,77.10 L434.04,77.10 L434.43,77.10 L434.82,77.10 L435.21,77.10 L435.60,77.10 L435.99,77.10 L436.38,77.10 L436.77,77.10 L437.16,77.10 L437.55,77.10 L437.94,77.10 L438.33,77.10 L438.72,77.10 L439.11,77.10 L439.50,77.10 L439.89,77.10 L440.28,77.10 L440.67,77.10 L441.06,77.10 L441.45,77.10 L441.84,77.10 L442.23,77.10 L442.62,77.10 L443.01,77.10 L443.40,77.10 L443.79,77.10 L444.18,77.10 L444.57,77.10 L444.96,77.10 L445.35,77.10 L445.74,77.10 L446.13,77.10 L446.52,77.10 L446.91,77.10 L447.30,77.10 L447.69,77.10 L448.08,77.10 L448.47,77.10 L448.86,77.10 L449.25,77.10 L449.64,77.10 L450.03,77.10 L450.42,77.10 L450.81,77.10 L451.20,77.10 L451.59,77.10 L451.98,77.10 L452.37,77.10 L452.76,77.10 L453.15,77.10 L453.54,77.10 L453.93,77.10 L454.32,77.10 L454.71,77.10 L455.10,77.10 L455.10,77.10 Z" fill="rgb(0,0,0)" stroke="#000" stroke-width="0.7" stroke-linejoin="round"/>
<path d="M408.30,89.40 L408.30,89.40 L408.69,89.40 L409.08,89.40 L409.47,89.40 L409.86,89.40 L410.25,89.40 L410.64,89.40 L411.03,89.40 L411.42,89.40 L411.81,89.40 L412.20,89.40 L412.59,89.40 L412.98,89.40 L413.37,89.40 L413.76,89.40 L414.15,89.40 L414.54,89.40 L414.93,89.40 L415.32,89.40 L415.71,89.40 L416.10,89.40 L416.49,89.39 L416.88,89.37 L417.27,89.32 L417.66,89.18 L418.05,88.88 L418.44,88.26 L418.83,87.13 L419.22,85.31 L419.61,82.65 L420.00,79.19 L420.39,75.16 L420.78,71.03 L421.17,67.35 L421.56,64.64 L421.95,63.16 L422.34,62.83 L422.73,63.36 L423.12,65.10 L423.51,68.04 L423.90,71.85 L424.29,76.01 L424.68,79.95 L425.07,83.27 L425.46,85.75 L425.85,87.41 L426.24,88.42 L426.63,88.96 L427.02,89.22 L427.41,89.33 L427.80,89.38 L428.19,89.39 L428.58,89.40 L428.97,89.40 L429.36,89.40 L429.75,89.40 L430.14,89.40 L430.53,89.40 L430.92,89.40 L431.31,89.40 L431.70,89.40 L432.09,89.40 L432.48,89.40 L432.87,89.40 L433.26,89.40 L433.65,89.40 L434.04,89.40 L434.43,89.40 L434.82,89.40 L435.21,89.40 L435.60,89.40 L435.99,89.40 L436.38,89.40 L436.77,89.40 L437.16,89.40 L437.55,89.40 L437.94,89.40 L438.33,89.40 L438.72,89.40 L439.11,89.40 L439.50,89.40 L439.89,89.40 L440.28,89.40 L440.67,89.40 L441.06,89.40 L441.45,89.40 L441.84,89.40 L442.23,89.40 L442.62,89.40 L443.01,89.40 L443.40,89.40 L443.79,89.40 L444.18,89.40 L444.57,89.40 L444.96,89.40 L445.35,89.40 L445.74,89.40 L446.13,89.40 L446.52,89.40 L446.91,89.40 L447.30,89.40 L447.69,89.40 L448.08,89.40 L448.47,89.40 L448.86,89.40 L449.25,89.40 L449.64,89.40 L450.03,89.40 L450.42,89.40 L450.81,89.40 L451.20,89.40 L451.59,89.40 L451.98,89.40 L452.37,89.40 L452.76,89.40 L453.15,89.40 L453.54,89.40 L453.93,89.40 L454.32,89.40 L454.71,89.40 L455.10,89.40 L455.10,89.40 Z" fill="rgb(28,28,70)" stroke="#000" stroke-width="0.7" stroke-linejoin="round"/>
<path d="M408.30,102.10 L408.30,102.10 L408.69,102.10 L409.08,102.10 L409.47,102.10 L409.86,102.10 L410.25,102.10 L410.64,102.10 L411.03,102.10 L411.42,102.10 L411.81,102.10 L412.20,102.10 L412.59,102.10 L412.98,102.10 L413.37,102.10 L413.76,102.10 L414.15,102.09 L414.54,102.09 L414.93,102.09 L415.32,102.08 L415.71,102.08 L416.10,102.07 L416.49,102.07 L416.88,102.06 L417.27,102.05 L417.66,102.03 L418.05,102.02 L418.44,102.00 L418.83,101.97 L419.22,101.95 L419.61,101.92 L420.00,101.88 L420.39,101.84 L420.78,101.79 L421.17,101.74 L421.56,101.69 L421.95,101.63 L422.34,101.57 L422.73,101.50 L423.12,101.43 L423.51,101.36 L423.90,101.29 L424.29,101.22 L424.68,101.15 L425.07,101.08 L425.46,101.02 L425.85,100.96 L426.24,100.91 L426.63,100.87 L427.02,100.84 L427.41,100.82 L427.80,100.81 L428.19,100.81 L428.58,100.82 L428.97,100.84 L429.36,100.87 L429.75,100.91 L430.14,100.96 L430.53,101.01 L430.92,101.08 L431.31,101.14 L431.70,101.21 L432.09,101.28 L432.48,101.36 L432.87,101.43 L433.26,101.50 L433.65,101.56 L434.04,101.62 L434.43,101.67 L434.82,101.69 L435.21,101.66 L435.60,101.53 L435.99,101.19 L436.38,100.52 L436.77,99.29 L437.16,97.29 L437.55,94.32 L437.94,90.31 L438.33,85.44 L438.72,80.17 L439.11,75.26 L439.50,71.55 L439.89,69.77 L440.28,70.01 L440.67,71.54 L441.06,74.12 L441.45,77.49 L441.84,81.30 L442.23,85.21 L442.62,88.92 L443.01,92.21 L443.40,94.97 L443.79,97.17 L444.18,98.82 L444.57,100.00 L444.96,100.81 L445.35,101.34 L445.74,101.67 L446.13,101.86 L446.52,101.98 L446.91,102.04 L447.30,102.07 L447.69,102.09 L448.08,102.09 L448.47,102.10 L448.86,102.10 L449.25,102.10 L449.64,102.10 L450.03,102.10 L450.42,102.10 L450.81,102.10 L451.20,102.10 L451.59,102.10 L451.98,102.10 L452.37,102.10 L452.76,102.10 L453.15,102.10 L453.54,102.10 L453.93,102.10 L454.32,102.10 L454.71,102.10 L455.10,102.10 L455.10,102.10 Z" fill="rgb(245,240,172)" stroke="#000" stroke-width="0.7" stroke-linejoin="round"/>
<path d="M408.30,114.90 L408.30,114.90 L408.69,114.90 L409.08,114.90 L409.47,114.90 L409.86,114.90 L410.25,114.90 L410.64,114.90 L411.03,114.90 L411.42,114.90 L411.81,114.89 L412.20,114.89 L412.59,114.89 L412.98,114.88 L413.37,114.87 L413.76,114.86 L414.15,114.85 L414.54,114.83 L414.93,114.80 L415.32,114.77 L415.71,114.74 L416.10,114.69 L416.49,114.64 L416.88,114.58 L417.27,114.51 L417.66,114.43 L418.05,114.34 L418.44,114.24 L418.83,114.13 L419.22,114.02 L419.61,113.91 L420.00,113.80 L420.39,113.68 L420.78,113.58 L421.17,113.48 L421.56,113.40 L421.95,113.33 L422.34,113.27 L422.73,113.23 L423.12,113.21 L423.51,113.21 L423.90,113.22 L424.29,113.24 L424.68,113.27 L425.07,113.29 L425.46,113.31 L425.85,113.32 L426.24,113.31 L426.63,113.26 L427.02,113.17 L427.41,113.02 L427.80,112.80 L428.19,112.50 L428.58,112.09 L428.97,111.57 L429.36,110.89 L429.75,110.06 L430.14,109.03 L430.53,107.78 L430.92,106.28 L431.31,104.51 L431.70,102.45 L432.09,100.07 L432.48,97.38 L432.87,94.41 L433.26,91.20 L433.65,87.87 L434.04,84.68 L434.43,82.50 L434.82,83.58 L435.21,86.33 L435.60,90.32 L435.99,94.96 L436.38,99.64 L436.77,103.88 L437.16,107.40 L437.55,110.08 L437.94,111.98 L438.33,113.23 L438.72,114.00 L439.11,114.44 L439.50,114.68 L439.89,114.80 L440.28,114.86 L440.67,114.88 L441.06,114.89 L441.45,114.90 L441.84,114.90 L442.23,114.90 L442.62,114.90 L443.01,114.90 L443.40,114.90 L443.79,114.90 L444.18,114.90 L444.57,114.90 L444.96,114.90 L445.35,114.90 L445.74,114.90 L446.13,114.90 L446.52,114.90 L446.91,114.90 L447.30,114.90 L447.69,114.90 L448.08,114.90 L448.47,114.90 L448.86,114.90 L449.25,114.90 L449.64,114.90 L450.03,114.90 L450.42,114.90 L450.81,114.90 L451.20,114.90 L451.59,114.90 L451.98,114.90 L452.37,114.90 L452.76,114.90 L453.15,114.90 L453.54,114.90 L453.93,114.90 L454.32,114.90 L454.71,114.90 L455.10,114.90 L455.10,114.90 Z" fill="rgb(238,226,42)" stroke="#000" stroke-width="0.7" stroke-linejoin="round"/>
<rect x="408.3" y="38.6" width="46.80" height="76.9" fill="none" stroke="#2a2a2a" stroke-width="1.1"/>
<line x1="414.50" y1="115.5" x2="414.50" y2="118.50" stroke="#000" stroke-width="0.85"/>
<line x1="430.90" y1="115.5" x2="430.90" y2="118.50" stroke="#000" stroke-width="0.85"/>
<line x1="449.60" y1="115.5" x2="449.60" y2="118.50" stroke="#000" stroke-width="0.85"/>
<line x1="419.44" y1="115.5" x2="419.44" y2="117.60" stroke="#000" stroke-width="0.85"/>
<line x1="422.32" y1="115.5" x2="422.32" y2="117.60" stroke="#000" stroke-width="0.85"/>
<line x1="424.37" y1="115.5" x2="424.37" y2="117.60" stroke="#000" stroke-width="0.85"/>
<line x1="425.96" y1="115.5" x2="425.96" y2="117.60" stroke="#000" stroke-width="0.85"/>
<line x1="427.26" y1="115.5" x2="427.26" y2="117.60" stroke="#000" stroke-width="0.85"/>
<line x1="428.36" y1="115.5" x2="428.36" y2="117.60" stroke="#000" stroke-width="0.85"/>
<line x1="429.31" y1="115.5" x2="429.31" y2="117.60" stroke="#000" stroke-width="0.85"/>
<line x1="430.15" y1="115.5" x2="430.15" y2="117.60" stroke="#000" stroke-width="0.85"/>
<line x1="436.53" y1="115.5" x2="436.53" y2="117.60" stroke="#000" stroke-width="0.85"/>
<line x1="439.82" y1="115.5" x2="439.82" y2="117.60" stroke="#000" stroke-width="0.85"/>
<line x1="442.16" y1="115.5" x2="442.16" y2="117.60" stroke="#000" stroke-width="0.85"/>
<line x1="443.97" y1="115.5" x2="443.97" y2="117.60" stroke="#000" stroke-width="0.85"/>
<line x1="445.45" y1="115.5" x2="445.45" y2="117.60" stroke="#000" stroke-width="0.85"/>
<line x1="446.70" y1="115.5" x2="446.70" y2="117.60" stroke="#000" stroke-width="0.85"/>
<line x1="447.79" y1="115.5" x2="447.79" y2="117.60" stroke="#000" stroke-width="0.85"/>
<line x1="448.74" y1="115.5" x2="448.74" y2="117.60" stroke="#000" stroke-width="0.85"/>
<line x1="415.80" y1="115.5" x2="415.80" y2="117.60" stroke="#000" stroke-width="0.85"/>
<line x1="417.10" y1="115.5" x2="417.10" y2="117.60" stroke="#000" stroke-width="0.85"/>
<line x1="418.30" y1="115.5" x2="418.30" y2="117.60" stroke="#000" stroke-width="0.85"/>
<path d="M461.50,77.10 L461.50,77.10 L461.89,77.10 L462.27,77.10 L462.66,77.10 L463.05,77.10 L463.44,77.10 L463.82,77.10 L464.21,77.09 L464.60,77.08 L464.99,77.06 L465.38,77.03 L465.76,76.97 L466.15,76.87 L466.54,76.71 L466.93,76.45 L467.31,76.06 L467.70,75.47 L468.09,74.64 L468.48,73.49 L468.86,71.96 L469.25,70.01 L469.64,67.62 L470.02,64.81 L470.41,61.65 L470.80,58.26 L471.19,54.83 L471.57,51.57 L471.96,48.73 L472.35,46.52 L472.74,45.13 L473.12,44.70 L473.51,45.26 L473.90,46.76 L474.29,49.06 L474.68,51.98 L475.06,55.27 L475.45,58.71 L475.84,62.07 L476.23,65.20 L476.61,67.96 L477.00,70.29 L477.39,72.18 L477.77,73.65 L478.16,74.76 L478.55,75.56 L478.94,76.12 L479.32,76.49 L479.71,76.73 L480.10,76.89 L480.49,76.98 L480.88,77.03 L481.26,77.07 L481.65,77.08 L482.04,77.09 L482.43,77.10 L482.81,77.10 L483.20,77.10 L483.59,77.10 L483.98,77.10 L484.36,77.10 L484.75,77.10 L485.14,77.10 L485.52,77.10 L485.91,77.10 L486.30,77.10 L486.69,77.10 L487.07,77.10 L487.46,77.10 L487.85,77.10 L488.24,77.10 L488.62,77.10 L489.01,77.10 L489.40,77.10 L489.79,77.10 L490.18,77.10 L490.56,77.10 L490.95,77.10 L491.34,77.10 L491.73,77.10 L492.11,77.10 L492.50,77.10 L492.89,77.10 L493.27,77.10 L493.66,77.10 L494.05,77.10 L494.44,77.10 L494.82,77.10 L495.21,77.10 L495.60,77.10 L495.99,77.10 L496.38,77.10 L496.76,77.10 L497.15,77.10 L497.54,77.10 L497.93,77.10 L498.31,77.10 L498.70,77.10 L499.09,77.10 L499.48,77.10 L499.86,77.10 L500.25,77.10 L500.64,77.10 L501.02,77.10 L501.41,77.10 L501.80,77.10 L502.19,77.10 L502.57,77.10 L502.96,77.10 L503.35,77.10 L503.74,77.10 L504.12,77.10 L504.51,77.10 L504.90,77.10 L505.29,77.10 L505.68,77.10 L506.06,77.10 L506.45,77.10 L506.84,77.10 L507.23,77.10 L507.61,77.10 L508.00,77.10 L508.00,77.10 Z" fill="rgb(0,0,0)" stroke="#000" stroke-width="0.7" stroke-linejoin="round"/>
<path d="M461.50,89.40 L461.50,89.40 L461.89,89.40 L462.27,89.40 L462.66,89.40 L463.05,89.40 L463.44,89.40 L463.82,89.39 L464.21,89.38 L464.60,89.36 L464.99,89.30 L465.38,89.20 L465.76,89.01 L466.15,88.67 L466.54,88.10 L466.93,87.22 L467.31,85.92 L467.70,84.11 L468.09,81.74 L468.48,78.82 L468.86,75.43 L469.25,71.76 L469.64,68.03 L470.02,64.52 L470.41,61.51 L470.80,59.21 L471.19,57.73 L471.57,57.07 L471.96,57.03 L472.35,57.57 L472.74,58.91 L473.12,61.09 L473.51,64.00 L473.90,67.44 L474.29,71.15 L474.68,74.85 L475.06,78.30 L475.45,81.30 L475.84,83.76 L476.23,85.66 L476.61,87.04 L477.00,87.98 L477.39,88.59 L477.77,88.96 L478.16,89.18 L478.55,89.29 L478.94,89.35 L479.32,89.38 L479.71,89.39 L480.10,89.40 L480.49,89.40 L480.88,89.40 L481.26,89.40 L481.65,89.40 L482.04,89.40 L482.43,89.40 L482.81,89.40 L483.20,89.40 L483.59,89.40 L483.98,89.40 L484.36,89.40 L484.75,89.40 L485.14,89.40 L485.52,89.40 L485.91,89.40 L486.30,89.40 L486.69,89.40 L487.07,89.40 L487.46,89.40 L487.85,89.40 L488.24,89.40 L488.62,89.40 L489.01,89.40 L489.40,89.40 L489.79,89.40 L490.18,89.40 L490.56,89.40 L490.95,89.40 L491.34,89.40 L491.73,89.40 L492.11,89.40 L492.50,89.40 L492.89,89.40 L493.27,89.40 L493.66,89.40 L494.05,89.40 L494.44,89.40 L494.82,89.40 L495.21,89.40 L495.60,89.40 L495.99,89.40 L496.38,89.40 L496.76,89.40 L497.15,89.40 L497.54,89.40 L497.93,89.40 L498.31,89.40 L498.70,89.40 L499.09,89.40 L499.48,89.40 L499.86,89.40 L500.25,89.40 L500.64,89.40 L501.02,89.40 L501.41,89.40 L501.80,89.40 L502.19,89.40 L502.57,89.40 L502.96,89.40 L503.35,89.40 L503.74,89.40 L504.12,89.40 L504.51,89.40 L504.90,89.40 L505.29,89.40 L505.68,89.40 L506.06,89.40 L506.45,89.40 L506.84,89.40 L507.23,89.40 L507.61,89.40 L508.00,89.40 L508.00,89.40 Z" fill="rgb(0,0,0)" stroke="#000" stroke-width="0.7" stroke-linejoin="round"/>
<path d="M461.50,102.10 L461.50,102.10 L461.89,102.10 L462.27,102.10 L462.66,102.10 L463.05,102.10 L463.44,102.10 L463.82,102.10 L464.21,102.10 L464.60,102.10 L464.99,102.10 L465.38,102.10 L465.76,102.10 L466.15,102.10 L466.54,102.10 L466.93,102.10 L467.31,102.10 L467.70,102.10 L468.09,102.10 L468.48,102.10 L468.86,102.10 L469.25,102.10 L469.64,102.10 L470.02,102.10 L470.41,102.10 L470.80,102.10 L471.19,102.10 L471.57,102.10 L471.96,102.10 L472.35,102.10 L472.74,102.10 L473.12,102.10 L473.51,102.10 L473.90,102.10 L474.29,102.10 L474.68,102.10 L475.06,102.10 L475.45,102.10 L475.84,102.08 L476.23,102.05 L476.61,101.95 L477.00,101.72 L477.39,101.20 L477.77,100.17 L478.16,98.30 L478.55,95.29 L478.94,90.97 L479.32,85.52 L479.71,79.59 L480.10,74.24 L480.49,70.66 L480.88,69.72 L481.26,70.52 L481.65,72.40 L482.04,75.15 L482.43,78.52 L482.81,82.20 L483.20,85.90 L483.59,89.38 L483.98,92.47 L484.36,95.06 L484.75,97.14 L485.14,98.73 L485.52,99.89 L485.91,100.71 L486.30,101.25 L486.69,101.60 L487.07,101.82 L487.46,101.94 L487.85,102.02 L488.24,102.06 L488.62,102.08 L489.01,102.09 L489.40,102.10 L489.79,102.10 L490.18,102.10 L490.56,102.10 L490.95,102.10 L491.34,102.10 L491.73,102.10 L492.11,102.10 L492.50,102.10 L492.89,102.10 L493.27,102.10 L493.66,102.10 L494.05,102.10 L494.44,102.10 L494.82,102.10 L495.21,102.10 L495.60,102.10 L495.99,102.10 L496.38,102.10 L496.76,102.10 L497.15,102.10 L497.54,102.10 L497.93,102.10 L498.31,102.10 L498.70,102.10 L499.09,102.10 L499.48,102.10 L499.86,102.10 L500.25,102.10 L500.64,102.10 L501.02,102.10 L501.41,102.10 L501.80,102.10 L502.19,102.10 L502.57,102.10 L502.96,102.10 L503.35,102.10 L503.74,102.10 L504.12,102.10 L504.51,102.10 L504.90,102.10 L505.29,102.10 L505.68,102.10 L506.06,102.10 L506.45,102.10 L506.84,102.10 L507.23,102.10 L507.61,102.10 L508.00,102.10 L508.00,102.10 Z" fill="rgb(190,186,48)" stroke="#000" stroke-width="0.7" stroke-linejoin="round"/>
<path d="M461.50,114.90 L461.50,114.90 L461.89,114.90 L462.27,114.90 L462.66,114.90 L463.05,114.90 L463.44,114.90 L463.82,114.90 L464.21,114.89 L464.60,114.89 L464.99,114.87 L465.38,114.85 L465.76,114.82 L466.15,114.76 L466.54,114.67 L466.93,114.53 L467.31,114.32 L467.70,114.01 L468.09,113.55 L468.48,112.92 L468.86,112.07 L469.25,110.94 L469.64,109.50 L470.02,107.72 L470.41,105.58 L470.80,103.10 L471.19,100.32 L471.57,97.33 L471.96,94.25 L472.35,91.22 L472.74,88.41 L473.12,85.98 L473.51,84.11 L473.90,82.92 L474.29,82.50 L474.68,82.87 L475.06,84.02 L475.45,85.85 L475.84,88.24 L476.23,91.03 L476.61,94.05 L477.00,97.13 L477.39,100.13 L477.77,102.92 L478.16,105.43 L478.55,107.59 L478.94,109.40 L479.32,110.86 L479.71,112.00 L480.10,112.88 L480.49,113.52 L480.88,113.98 L481.26,114.30 L481.65,114.52 L482.04,114.67 L482.43,114.76 L482.81,114.82 L483.20,114.85 L483.59,114.87 L483.98,114.89 L484.36,114.89 L484.75,114.90 L485.14,114.90 L485.52,114.90 L485.91,114.90 L486.30,114.90 L486.69,114.90 L487.07,114.90 L487.46,114.90 L487.85,114.90 L488.24,114.90 L488.62,114.90 L489.01,114.90 L489.40,114.90 L489.79,114.90 L490.18,114.90 L490.56,114.90 L490.95,114.90 L491.34,114.90 L491.73,114.90 L492.11,114.90 L492.50,114.90 L492.89,114.90 L493.27,114.90 L493.66,114.90 L494.05,114.90 L494.44,114.90 L494.82,114.90 L495.21,114.90 L495.60,114.90 L495.99,114.90 L496.38,114.90 L496.76,114.90 L497.15,114.90 L497.54,114.90 L497.93,114.90 L498.31,114.90 L498.70,114.90 L499.09,114.90 L499.48,114.90 L499.86,114.90 L500.25,114.90 L500.64,114.90 L501.02,114.90 L501.41,114.90 L501.80,114.90 L502.19,114.90 L502.57,114.90 L502.96,114.90 L503.35,114.90 L503.74,114.90 L504.12,114.90 L504.51,114.90 L504.90,114.90 L505.29,114.90 L505.68,114.90 L506.06,114.90 L506.45,114.90 L506.84,114.90 L507.23,114.90 L507.61,114.90 L508.00,114.90 L508.00,114.90 Z" fill="rgb(50,50,16)" stroke="#000" stroke-width="0.7" stroke-linejoin="round"/>
<rect x="461.5" y="38.6" width="46.50" height="76.9" fill="none" stroke="#2a2a2a" stroke-width="1.1"/>
<line x1="467.70" y1="115.5" x2="467.70" y2="118.50" stroke="#000" stroke-width="0.85"/>
<line x1="484.10" y1="115.5" x2="484.10" y2="118.50" stroke="#000" stroke-width="0.85"/>
<line x1="502.80" y1="115.5" x2="502.80" y2="118.50" stroke="#000" stroke-width="0.85"/>
<line x1="472.64" y1="115.5" x2="472.64" y2="117.60" stroke="#000" stroke-width="0.85"/>
<line x1="475.52" y1="115.5" x2="475.52" y2="117.60" stroke="#000" stroke-width="0.85"/>
<line x1="477.57" y1="115.5" x2="477.57" y2="117.60" stroke="#000" stroke-width="0.85"/>
<line x1="479.16" y1="115.5" x2="479.16" y2="117.60" stroke="#000" stroke-width="0.85"/>
<line x1="480.46" y1="115.5" x2="480.46" y2="117.60" stroke="#000" stroke-width="0.85"/>
<line x1="481.56" y1="115.5" x2="481.56" y2="117.60" stroke="#000" stroke-width="0.85"/>
<line x1="482.51" y1="115.5" x2="482.51" y2="117.60" stroke="#000" stroke-width="0.85"/>
<line x1="483.35" y1="115.5" x2="483.35" y2="117.60" stroke="#000" stroke-width="0.85"/>
<line x1="489.73" y1="115.5" x2="489.73" y2="117.60" stroke="#000" stroke-width="0.85"/>
<line x1="493.02" y1="115.5" x2="493.02" y2="117.60" stroke="#000" stroke-width="0.85"/>
<line x1="495.36" y1="115.5" x2="495.36" y2="117.60" stroke="#000" stroke-width="0.85"/>
<line x1="497.17" y1="115.5" x2="497.17" y2="117.60" stroke="#000" stroke-width="0.85"/>
<line x1="498.65" y1="115.5" x2="498.65" y2="117.60" stroke="#000" stroke-width="0.85"/>
<line x1="499.90" y1="115.5" x2="499.90" y2="117.60" stroke="#000" stroke-width="0.85"/>
<line x1="500.99" y1="115.5" x2="500.99" y2="117.60" stroke="#000" stroke-width="0.85"/>
<line x1="501.94" y1="115.5" x2="501.94" y2="117.60" stroke="#000" stroke-width="0.85"/>
<line x1="469.00" y1="115.5" x2="469.00" y2="117.60" stroke="#000" stroke-width="0.85"/>
<line x1="470.30" y1="115.5" x2="470.30" y2="117.60" stroke="#000" stroke-width="0.85"/>
<line x1="471.50" y1="115.5" x2="471.50" y2="117.60" stroke="#000" stroke-width="0.85"/>
<line x1="45.7" y1="248.8" x2="45.7" y2="164.95000000000002" stroke="#000" stroke-width="1.2"/>
<line x1="42.5" y1="248.3" x2="146.29999999999998" y2="248.3" stroke="#000" stroke-width="1.2"/>
<line x1="42.5" y1="231.75" x2="45.7" y2="231.75" stroke="#000" stroke-width="1.1"/>
<line x1="42.5" y1="215.20" x2="45.7" y2="215.20" stroke="#000" stroke-width="1.1"/>
<line x1="42.5" y1="198.65" x2="45.7" y2="198.65" stroke="#000" stroke-width="1.1"/>
<line x1="42.5" y1="182.10" x2="45.7" y2="182.10" stroke="#000" stroke-width="1.1"/>
<line x1="42.5" y1="165.55" x2="45.7" y2="165.55" stroke="#000" stroke-width="1.1"/>
<line x1="45.70" y1="248.3" x2="45.70" y2="251.5" stroke="#000" stroke-width="1.1"/>
<line x1="58.20" y1="248.3" x2="58.20" y2="249.9" stroke="#000" stroke-width="1.1"/>
<line x1="70.70" y1="248.3" x2="70.70" y2="251.5" stroke="#000" stroke-width="1.1"/>
<line x1="83.20" y1="248.3" x2="83.20" y2="249.9" stroke="#000" stroke-width="1.1"/>
<line x1="95.70" y1="248.3" x2="95.70" y2="251.5" stroke="#000" stroke-width="1.1"/>
<line x1="108.20" y1="248.3" x2="108.20" y2="249.9" stroke="#000" stroke-width="1.1"/>
<line x1="120.70" y1="248.3" x2="120.70" y2="251.5" stroke="#000" stroke-width="1.1"/>
<line x1="133.20" y1="248.3" x2="133.20" y2="249.9" stroke="#000" stroke-width="1.1"/>
<line x1="145.70" y1="248.3" x2="145.70" y2="251.5" stroke="#000" stroke-width="1.1"/>
<line x1="166.2" y1="248.8" x2="166.2" y2="164.95000000000002" stroke="#000" stroke-width="1.2"/>
<line x1="163.0" y1="248.3" x2="266.8" y2="248.3" stroke="#000" stroke-width="1.2"/>
<line x1="163.0" y1="231.75" x2="166.2" y2="231.75" stroke="#000" stroke-width="1.1"/>
<line x1="163.0" y1="215.20" x2="166.2" y2="215.20" stroke="#000" stroke-width="1.1"/>
<line x1="163.0" y1="198.65" x2="166.2" y2="198.65" stroke="#000" stroke-width="1.1"/>
<line x1="163.0" y1="182.10" x2="166.2" y2="182.10" stroke="#000" stroke-width="1.1"/>
<line x1="163.0" y1="165.55" x2="166.2" y2="165.55" stroke="#000" stroke-width="1.1"/>
<line x1="166.20" y1="248.3" x2="166.20" y2="251.5" stroke="#000" stroke-width="1.1"/>
<line x1="178.70" y1="248.3" x2="178.70" y2="249.9" stroke="#000" stroke-width="1.1"/>
<line x1="191.20" y1="248.3" x2="191.20" y2="251.5" stroke="#000" stroke-width="1.1"/>
<line x1="203.70" y1="248.3" x2="203.70" y2="249.9" stroke="#000" stroke-width="1.1"/>
<line x1="216.20" y1="248.3" x2="216.20" y2="251.5" stroke="#000" stroke-width="1.1"/>
<line x1="228.70" y1="248.3" x2="228.70" y2="249.9" stroke="#000" stroke-width="1.1"/>
<line x1="241.20" y1="248.3" x2="241.20" y2="251.5" stroke="#000" stroke-width="1.1"/>
<line x1="253.70" y1="248.3" x2="253.70" y2="249.9" stroke="#000" stroke-width="1.1"/>
<line x1="266.20" y1="248.3" x2="266.20" y2="251.5" stroke="#000" stroke-width="1.1"/>
<line x1="287.0" y1="248.8" x2="287.0" y2="164.95000000000002" stroke="#000" stroke-width="1.2"/>
<line x1="283.8" y1="248.3" x2="387.6" y2="248.3" stroke="#000" stroke-width="1.2"/>
<line x1="283.8" y1="231.75" x2="287.0" y2="231.75" stroke="#000" stroke-width="1.1"/>
<line x1="283.8" y1="215.20" x2="287.0" y2="215.20" stroke="#000" stroke-width="1.1"/>
<line x1="283.8" y1="198.65" x2="287.0" y2="198.65" stroke="#000" stroke-width="1.1"/>
<line x1="283.8" y1="182.10" x2="287.0" y2="182.10" stroke="#000" stroke-width="1.1"/>
<line x1="283.8" y1="165.55" x2="287.0" y2="165.55" stroke="#000" stroke-width="1.1"/>
<line x1="287.00" y1="248.3" x2="287.00" y2="251.5" stroke="#000" stroke-width="1.1"/>
<line x1="299.50" y1="248.3" x2="299.50" y2="249.9" stroke="#000" stroke-width="1.1"/>
<line x1="312.00" y1="248.3" x2="312.00" y2="251.5" stroke="#000" stroke-width="1.1"/>
<line x1="324.50" y1="248.3" x2="324.50" y2="249.9" stroke="#000" stroke-width="1.1"/>
<line x1="337.00" y1="248.3" x2="337.00" y2="251.5" stroke="#000" stroke-width="1.1"/>
<line x1="349.50" y1="248.3" x2="349.50" y2="249.9" stroke="#000" stroke-width="1.1"/>
<line x1="362.00" y1="248.3" x2="362.00" y2="251.5" stroke="#000" stroke-width="1.1"/>
<line x1="374.50" y1="248.3" x2="374.50" y2="249.9" stroke="#000" stroke-width="1.1"/>
<line x1="387.00" y1="248.3" x2="387.00" y2="251.5" stroke="#000" stroke-width="1.1"/>
<line x1="407.5" y1="248.8" x2="407.5" y2="164.95000000000002" stroke="#000" stroke-width="1.2"/>
<line x1="404.3" y1="248.3" x2="508.1" y2="248.3" stroke="#000" stroke-width="1.2"/>
<line x1="404.3" y1="231.75" x2="407.5" y2="231.75" stroke="#000" stroke-width="1.1"/>
<line x1="404.3" y1="215.20" x2="407.5" y2="215.20" stroke="#000" stroke-width="1.1"/>
<line x1="404.3" y1="198.65" x2="407.5" y2="198.65" stroke="#000" stroke-width="1.1"/>
<line x1="404.3" y1="182.10" x2="407.5" y2="182.10" stroke="#000" stroke-width="1.1"/>
<line x1="404.3" y1="165.55" x2="407.5" y2="165.55" stroke="#000" stroke-width="1.1"/>
<line x1="407.50" y1="248.3" x2="407.50" y2="251.5" stroke="#000" stroke-width="1.1"/>
<line x1="420.00" y1="248.3" x2="420.00" y2="249.9" stroke="#000" stroke-width="1.1"/>
<line x1="432.50" y1="248.3" x2="432.50" y2="251.5" stroke="#000" stroke-width="1.1"/>
<line x1="445.00" y1="248.3" x2="445.00" y2="249.9" stroke="#000" stroke-width="1.1"/>
<line x1="457.50" y1="248.3" x2="457.50" y2="251.5" stroke="#000" stroke-width="1.1"/>
<line x1="470.00" y1="248.3" x2="470.00" y2="249.9" stroke="#000" stroke-width="1.1"/>
<line x1="482.50" y1="248.3" x2="482.50" y2="251.5" stroke="#000" stroke-width="1.1"/>
<line x1="495.00" y1="248.3" x2="495.00" y2="249.9" stroke="#000" stroke-width="1.1"/>
<line x1="507.50" y1="248.3" x2="507.50" y2="251.5" stroke="#000" stroke-width="1.1"/>
<line x1="55.9" y1="204.3" x2="76.6" y2="226.3" stroke="#000" stroke-width="1.15"/>
<line x1="195.5" y1="203.4" x2="257.3" y2="226.8" stroke="#000" stroke-width="1.15"/>
<line x1="303.5" y1="188.4" x2="333.0" y2="219.2" stroke="#000" stroke-width="1.15"/>
<line x1="433.0" y1="213.4" x2="462.2" y2="227.6" stroke="#000" stroke-width="1.15"/>
<circle cx="59.9" cy="191.0" r="2.15" fill="#561828" stroke="#000" stroke-width="0.9"/>
<circle cx="59.8" cy="202.0" r="2.15" fill="#561828" stroke="#000" stroke-width="0.9"/>
<circle cx="67.2" cy="204.4" r="2.15" fill="#561828" stroke="#000" stroke-width="0.9"/>
<circle cx="66.0" cy="206.4" r="2.15" fill="#561828" stroke="#000" stroke-width="0.9"/>
<circle cx="55.9" cy="211.4" r="2.15" fill="#561828" stroke="#000" stroke-width="0.9"/>
<circle cx="77.2" cy="211.6" r="2.15" fill="#561828" stroke="#000" stroke-width="0.9"/>
<circle cx="69.7" cy="223.3" r="2.15" fill="#561828" stroke="#000" stroke-width="0.9"/>
<circle cx="74.5" cy="223.8" r="2.15" fill="#561828" stroke="#000" stroke-width="0.9"/>
<circle cx="65.4" cy="227.0" r="2.15" fill="#561828" stroke="#000" stroke-width="0.9"/>
<circle cx="73.9" cy="229.7" r="2.15" fill="#561828" stroke="#000" stroke-width="0.9"/>
<circle cx="78.7" cy="229.5" r="2.15" fill="#561828" stroke="#000" stroke-width="0.9"/>
<circle cx="65.7" cy="235.4" r="2.15" fill="#561828" stroke="#000" stroke-width="0.9"/>
<circle cx="199.3" cy="193.4" r="2.15" fill="#561828" stroke="#000" stroke-width="0.9"/>
<circle cx="195.3" cy="204.5" r="2.15" fill="#561828" stroke="#000" stroke-width="0.9"/>
<circle cx="201.2" cy="203.6" r="2.15" fill="#561828" stroke="#000" stroke-width="0.9"/>
<circle cx="210.8" cy="207.6" r="2.15" fill="#561828" stroke="#000" stroke-width="0.9"/>
<circle cx="206.9" cy="212.2" r="2.15" fill="#561828" stroke="#000" stroke-width="0.9"/>
<circle cx="222.2" cy="203.6" r="2.15" fill="#561828" stroke="#000" stroke-width="0.9"/>
<circle cx="233.9" cy="208.4" r="2.15" fill="#561828" stroke="#000" stroke-width="0.9"/>
<circle cx="237.3" cy="214.9" r="2.15" fill="#561828" stroke="#000" stroke-width="0.9"/>
<circle cx="241.8" cy="218.3" r="2.15" fill="#561828" stroke="#000" stroke-width="0.9"/>
<circle cx="237.3" cy="220.6" r="2.15" fill="#561828" stroke="#000" stroke-width="0.9"/>
<circle cx="212.2" cy="226.2" r="2.15" fill="#561828" stroke="#000" stroke-width="0.9"/>
<circle cx="219.9" cy="227.0" r="2.15" fill="#561828" stroke="#000" stroke-width="0.9"/>
<circle cx="257.3" cy="228.8" r="2.15" fill="#561828" stroke="#000" stroke-width="0.9"/>
<circle cx="304.4" cy="171.9" r="2.15" fill="#561828" stroke="#000" stroke-width="0.9"/>
<circle cx="312.6" cy="179.0" r="2.15" fill="#561828" stroke="#000" stroke-width="0.9"/>
<circle cx="307.2" cy="190.2" r="2.15" fill="#561828" stroke="#000" stroke-width="0.9"/>
<circle cx="325.3" cy="193.1" r="2.15" fill="#561828" stroke="#000" stroke-width="0.9"/>
<circle cx="303.5" cy="197.1" r="2.15" fill="#561828" stroke="#000" stroke-width="0.9"/>
<circle cx="312.5" cy="199.1" r="2.15" fill="#561828" stroke="#000" stroke-width="0.9"/>
<circle cx="323.2" cy="201.8" r="2.15" fill="#561828" stroke="#000" stroke-width="0.9"/>
<circle cx="319.6" cy="210.9" r="2.15" fill="#561828" stroke="#000" stroke-width="0.9"/>
<circle cx="322.7" cy="214.9" r="2.15" fill="#561828" stroke="#000" stroke-width="0.9"/>
<circle cx="335.1" cy="214.9" r="2.15" fill="#561828" stroke="#000" stroke-width="0.9"/>
<circle cx="331.2" cy="219.4" r="2.15" fill="#561828" stroke="#000" stroke-width="0.9"/>
<circle cx="313.5" cy="224.5" r="2.15" fill="#561828" stroke="#000" stroke-width="0.9"/>
<circle cx="320.6" cy="226.9" r="2.15" fill="#561828" stroke="#000" stroke-width="0.9"/>
<circle cx="433.3" cy="204.8" r="2.15" fill="#561828" stroke="#000" stroke-width="0.9"/>
<circle cx="446.6" cy="206.9" r="2.15" fill="#561828" stroke="#000" stroke-width="0.9"/>
<circle cx="458.3" cy="210.1" r="2.15" fill="#561828" stroke="#000" stroke-width="0.9"/>
<circle cx="434.8" cy="210.1" r="2.15" fill="#561828" stroke="#000" stroke-width="0.9"/>
<circle cx="437.8" cy="213.1" r="2.15" fill="#561828" stroke="#000" stroke-width="0.9"/>
<circle cx="446.8" cy="212.4" r="2.15" fill="#561828" stroke="#000" stroke-width="0.9"/>
<circle cx="446.8" cy="220.7" r="2.15" fill="#561828" stroke="#000" stroke-width="0.9"/>
<circle cx="452.8" cy="221.6" r="2.15" fill="#561828" stroke="#000" stroke-width="0.9"/>
<circle cx="461.3" cy="227.8" r="2.15" fill="#561828" stroke="#000" stroke-width="0.9"/>
<circle cx="448.4" cy="237.0" r="2.15" fill="#561828" stroke="#000" stroke-width="0.9"/>
<circle cx="436.9" cy="242.5" r="2.15" fill="#561828" stroke="#000" stroke-width="0.9"/>
<circle cx="464.4" cy="242.0" r="2.15" fill="#561828" stroke="#000" stroke-width="0.9"/>
<defs><linearGradient id="cb" x1="0" x2="1" y1="0" y2="0">
<stop offset="0" stop-color="#8080ff"/><stop offset="0.18" stop-color="#0000f0"/>
<stop offset="0.36" stop-color="#000000"/><stop offset="0.68" stop-color="#f2f000"/>
<stop offset="1" stop-color="#ffffa0"/></linearGradient></defs>
<rect x="24.5" y="41" width="45" height="8.4" fill="url(#cb)" stroke="#000" stroke-width="0.9"/>
<line x1="24.5" y1="49.4" x2="24.5" y2="52.3" stroke="#000" stroke-width="0.8"/>
<line x1="32.7" y1="49.4" x2="32.7" y2="52.3" stroke="#000" stroke-width="0.8"/>
<line x1="41.2" y1="49.4" x2="41.2" y2="52.3" stroke="#000" stroke-width="0.8"/>
<line x1="55.4" y1="49.4" x2="55.4" y2="52.3" stroke="#000" stroke-width="0.8"/>
<line x1="69.5" y1="49.4" x2="69.5" y2="52.3" stroke="#000" stroke-width="0.8"/>
<line x1="57.8" y1="91" x2="57.8" y2="114" stroke="#000" stroke-width="0.9"/>
<text x="7.4" y="17" font-size="11.8" text-anchor="start" font-weight="bold" >A</text>
<text x="7.7" y="156" font-size="12" text-anchor="start" font-weight="bold" >B</text>
<text x="46.8" y="28.9" font-size="6.5" text-anchor="middle" font-weight="normal" >phosphorylation</text>
<text x="47" y="36.6" font-size="6.5" text-anchor="middle" font-weight="normal" >scale</text>
<text x="24.6" y="61.6" font-size="6.3" text-anchor="middle" font-weight="normal" >-2.0</text>
<text x="41.4" y="61.6" font-size="6.3" text-anchor="middle" font-weight="normal" >0</text>
<text x="69.3" y="61.6" font-size="6.3" text-anchor="middle" font-weight="normal" >2.5</text>
<text x="185.2" y="30.9" font-size="9.1" text-anchor="middle" font-weight="normal" textLength="40.6" lengthAdjust="spacingAndGlyphs" class="mid">MCL-S065</text>
<text x="405.2" y="30.9" font-size="9.1" text-anchor="middle" font-weight="normal" textLength="40.6" lengthAdjust="spacingAndGlyphs" class="mid">MCL-S062</text>
<text x="80.4" y="76" font-size="6.5" text-anchor="end" font-weight="normal" >unstim</text>
<text x="80.4" y="88.6" font-size="6.5" text-anchor="end" font-weight="normal" >SYK-i</text>
<text x="80.4" y="101.1" font-size="6.5" text-anchor="end" font-weight="normal" >unstim</text>
<text x="80.4" y="113.3" font-size="6.5" text-anchor="end" font-weight="normal" >SYK-i</text>
<text x="0" y="0" font-size="6.5" text-anchor="middle" font-weight="normal" transform="translate(51.6,102.5) rotate(-90)">α-IgM</text>
<text x="106.7" y="128.3" font-size="6.3" text-anchor="middle" font-weight="normal" >p-SYK</text>
<text x="159.35000000000002" y="128.3" font-size="6.3" text-anchor="middle" font-weight="normal" >p-BTK (Y223)</text>
<text x="212.0" y="128.3" font-size="6.3" text-anchor="middle" font-weight="normal" >p-PLC<tspan font-size="5" dy="0.8">γ</tspan></text>
<text x="264.40000000000003" y="128.3" font-size="6.3" text-anchor="middle" font-weight="normal" >p-AKT</text>
<text x="326.34999999999997" y="128.3" font-size="6.3" text-anchor="middle" font-weight="normal" >p-SYK</text>
<text x="379.35" y="128.3" font-size="6.3" text-anchor="middle" font-weight="normal" >p-BTK (Y223)</text>
<text x="432.00000000000006" y="128.3" font-size="6.3" text-anchor="middle" font-weight="normal" >p-PLC<tspan font-size="5" dy="0.8">γ</tspan></text>
<text x="485.05" y="128.3" font-size="6.3" text-anchor="middle" font-weight="normal" >p-AKT</text>
<text x="97.0" y="175.5" font-size="6.5" text-anchor="middle" font-weight="normal" >p-SYK</text>
<text x="217.5" y="175.5" font-size="6.5" text-anchor="middle" font-weight="normal" >p-BTK (Y223)</text>
<text x="338.0" y="175.5" font-size="6.5" text-anchor="middle" font-weight="normal" >p-PLC<tspan font-size="5" dy="0.8">γ</tspan></text>
<text x="458.7" y="175.5" font-size="6.5" text-anchor="middle" font-weight="normal" >p-AKT</text>
<text x="38.5" y="250.60000000000002" font-size="6.0" text-anchor="end" font-weight="normal" >0</text>
<text x="38.5" y="234.05" font-size="6.0" text-anchor="end" font-weight="normal" >0.5</text>
<text x="38.5" y="217.50000000000003" font-size="6.0" text-anchor="end" font-weight="normal" >1.0</text>
<text x="38.5" y="200.95000000000002" font-size="6.0" text-anchor="end" font-weight="normal" >1.5</text>
<text x="38.5" y="184.40000000000003" font-size="6.0" text-anchor="end" font-weight="normal" >2.0</text>
<text x="38.5" y="167.85000000000002" font-size="6.0" text-anchor="end" font-weight="normal" >2.5</text>
<text x="46.1" y="260.2" font-size="5.9" text-anchor="middle" font-weight="normal" >0</text>
<text x="71.10000000000001" y="260.2" font-size="5.9" text-anchor="middle" font-weight="normal" >50</text>
<text x="96.10000000000001" y="260.2" font-size="5.9" text-anchor="middle" font-weight="normal" >100</text>
<text x="121.10000000000001" y="260.2" font-size="5.9" text-anchor="middle" font-weight="normal" >150</text>
<text x="146.1" y="260.2" font-size="5.9" text-anchor="middle" font-weight="normal" >200</text>
<text x="159.0" y="250.60000000000002" font-size="6.0" text-anchor="end" font-weight="normal" >0</text>
<text x="159.0" y="234.05" font-size="6.0" text-anchor="end" font-weight="normal" >0.5</text>
<text x="159.0" y="217.50000000000003" font-size="6.0" text-anchor="end" font-weight="normal" >1.0</text>
<text x="159.0" y="200.95000000000002" font-size="6.0" text-anchor="end" font-weight="normal" >1.5</text>
<text x="159.0" y="184.40000000000003" font-size="6.0" text-anchor="end" font-weight="normal" >2.0</text>
<text x="159.0" y="167.85000000000002" font-size="6.0" text-anchor="end" font-weight="normal" >2.5</text>
<text x="166.6" y="260.2" font-size="5.9" text-anchor="middle" font-weight="normal" >0</text>
<text x="191.6" y="260.2" font-size="5.9" text-anchor="middle" font-weight="normal" >50</text>
<text x="216.6" y="260.2" font-size="5.9" text-anchor="middle" font-weight="normal" >100</text>
<text x="241.6" y="260.2" font-size="5.9" text-anchor="middle" font-weight="normal" >150</text>
<text x="266.59999999999997" y="260.2" font-size="5.9" text-anchor="middle" font-weight="normal" >200</text>
<text x="279.8" y="250.60000000000002" font-size="6.0" text-anchor="end" font-weight="normal" >0</text>
<text x="279.8" y="234.05" font-size="6.0" text-anchor="end" font-weight="normal" >0.5</text>
<text x="279.8" y="217.50000000000003" font-size="6.0" text-anchor="end" font-weight="normal" >1.0</text>
<text x="279.8" y="200.95000000000002" font-size="6.0" text-anchor="end" font-weight="normal" >1.5</text>
<text x="279.8" y="184.40000000000003" font-size="6.0" text-anchor="end" font-weight="normal" >2.0</text>
<text x="279.8" y="167.85000000000002" font-size="6.0" text-anchor="end" font-weight="normal" >2.5</text>
<text x="287.4" y="260.2" font-size="5.9" text-anchor="middle" font-weight="normal" >0</text>
<text x="312.4" y="260.2" font-size="5.9" text-anchor="middle" font-weight="normal" >50</text>
<text x="337.4" y="260.2" font-size="5.9" text-anchor="middle" font-weight="normal" >100</text>
<text x="362.4" y="260.2" font-size="5.9" text-anchor="middle" font-weight="normal" >150</text>
<text x="387.4" y="260.2" font-size="5.9" text-anchor="middle" font-weight="normal" >200</text>
<text x="400.3" y="250.60000000000002" font-size="6.0" text-anchor="end" font-weight="normal" >0</text>
<text x="400.3" y="234.05" font-size="6.0" text-anchor="end" font-weight="normal" >0.5</text>
<text x="400.3" y="217.50000000000003" font-size="6.0" text-anchor="end" font-weight="normal" >1.0</text>
<text x="400.3" y="200.95000000000002" font-size="6.0" text-anchor="end" font-weight="normal" >1.5</text>
<text x="400.3" y="184.40000000000003" font-size="6.0" text-anchor="end" font-weight="normal" >2.0</text>
<text x="400.3" y="167.85000000000002" font-size="6.0" text-anchor="end" font-weight="normal" >2.5</text>
<text x="407.9" y="260.2" font-size="5.9" text-anchor="middle" font-weight="normal" >0</text>
<text x="432.9" y="260.2" font-size="5.9" text-anchor="middle" font-weight="normal" >50</text>
<text x="457.9" y="260.2" font-size="5.9" text-anchor="middle" font-weight="normal" >100</text>
<text x="482.9" y="260.2" font-size="5.9" text-anchor="middle" font-weight="normal" >150</text>
<text x="507.9" y="260.2" font-size="5.9" text-anchor="middle" font-weight="normal" >200</text>
<text x="97.3" y="232.6" font-size="6.3" text-anchor="start" font-weight="normal" >r=-0.517</text>
<text x="97.3" y="240.79999999999998" font-size="6.3"><tspan font-style="italic">p</tspan>=n.s.</text>
<text x="175.6" y="232.6" font-size="6.3" text-anchor="start" font-weight="normal" >r=-0.68</text>
<text x="175.6" y="240.79999999999998" font-size="6.3"><tspan font-style="italic">p</tspan>&lt;0.01</text>
<text x="349.1" y="232.6" font-size="6.3" text-anchor="start" font-weight="normal" >r=-0.56</text>
<text x="349.1" y="240.79999999999998" font-size="6.3"><tspan font-style="italic">p</tspan>&lt;0.05</text>
<text x="482.0" y="230.8" font-size="6.3" text-anchor="start" font-weight="normal" >r=-0.50</text>
<text x="482.0" y="239.0" font-size="6.3"><tspan font-style="italic">p</tspan>=n.s.</text>
<text x="259.5" y="272.1" font-size="8.5" text-anchor="middle" font-weight="normal" textLength="198" lengthAdjust="spacingAndGlyphs" class="big">SYK-i suppression of α-IgM-induced phosphorylation (%)</text>
<text x="0" y="0" font-size="8.5" text-anchor="middle" font-weight="normal" textLength="71.5" lengthAdjust="spacingAndGlyphs" class="big" transform="translate(14.5,203.3) rotate(-90)">α-IgM-induced phosph.</text>
<text x="0" y="0" font-size="8.5" text-anchor="middle" font-weight="normal" textLength="61.5" lengthAdjust="spacingAndGlyphs" class="big" transform="translate(23.6,204) rotate(-90)">(relative to unstim)</text>
</svg>
</body></html>
